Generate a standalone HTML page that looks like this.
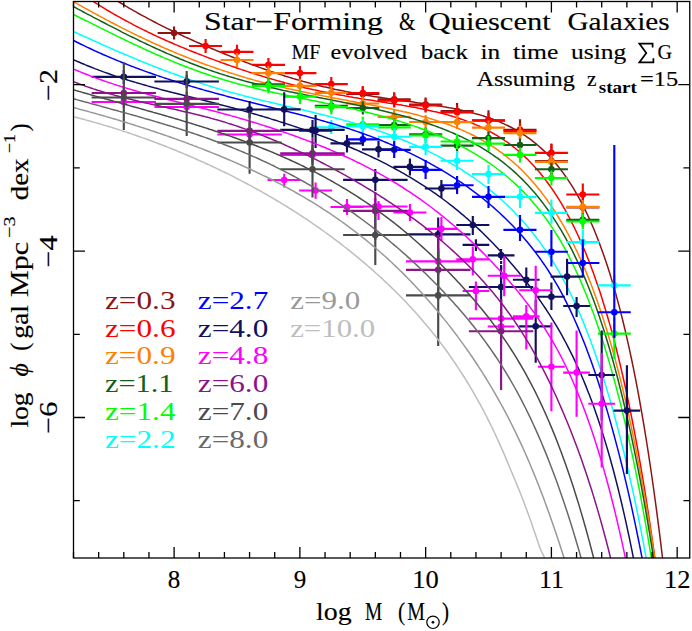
<!DOCTYPE html>
<html><head><meta charset="utf-8"><title>Mass functions</title>
<style>html,body{margin:0;padding:0;background:#fff}svg{font-family:"Liberation Serif",serif}</style></head>
<body>
<svg width="692" height="631" viewBox="0 0 692 631" style="display:block">
<rect width="692" height="631" fill="#fff"/>
<defs><clipPath id="c"><rect x="73.50" y="1.50" width="616.25" height="556.50"/></clipPath></defs>
<g clip-path="url(#c)" stroke-linecap="butt">
<g stroke="#8c1414" fill="#8c1414" stroke-width="2.15">
<path d="M73.5 -22.1 L75.5 -21.1 L77.5 -20.0 L79.5 -18.9 L81.5 -17.9 L83.5 -16.8 L85.5 -15.8 L87.5 -14.7 L89.5 -13.6 L91.5 -12.6 L93.5 -11.5 L95.5 -10.5 L97.5 -9.4 L99.5 -8.3 L101.5 -7.3 L103.5 -6.2 L105.5 -5.2 L107.5 -4.1 L109.5 -3.1 L111.5 -2.0 L113.5 -1.0 L115.5 0.1 L117.5 1.1 L119.5 2.3 L121.5 3.5 L123.5 4.7 L125.5 5.9 L127.5 7.1 L129.5 8.3 L131.5 9.4 L133.5 10.6 L135.5 11.7 L137.5 12.8 L139.5 14.0 L141.5 15.1 L143.5 16.2 L145.5 17.2 L147.5 18.3 L149.5 19.4 L151.5 20.4 L153.5 21.5 L155.5 22.5 L157.5 23.6 L159.5 24.6 L161.5 25.6 L163.5 26.6 L165.5 27.6 L167.5 28.6 L169.5 29.5 L171.5 30.5 L173.5 31.5 L175.5 32.4 L177.5 33.4 L179.5 34.3 L181.5 35.2 L183.5 36.2 L185.5 37.1 L187.5 38.0 L189.5 38.9 L191.5 39.8 L193.5 40.7 L195.5 41.6 L197.5 42.5 L199.5 43.3 L201.5 44.2 L203.5 45.1 L205.5 45.9 L207.5 46.8 L209.5 47.6 L211.5 48.5 L213.5 49.3 L215.5 50.1 L217.5 51.0 L219.5 51.8 L221.5 52.6 L223.5 53.5 L225.5 54.3 L227.5 55.1 L229.5 55.9 L231.5 56.7 L233.5 57.5 L235.5 58.3 L237.5 59.1 L239.5 59.9 L241.5 60.6 L243.5 61.4 L245.5 62.2 L247.5 62.9 L249.5 63.7 L251.5 64.4 L253.5 65.2 L255.5 65.9 L257.5 66.6 L259.5 67.4 L261.5 68.1 L263.5 68.8 L265.5 69.5 L267.5 70.2 L269.5 70.9 L271.5 71.6 L273.5 72.3 L275.5 72.9 L277.5 73.6 L279.5 74.2 L281.5 74.9 L283.5 75.5 L285.5 76.2 L287.5 76.8 L289.5 77.4 L291.5 78.0 L293.5 78.6 L295.5 79.2 L297.5 79.8 L299.5 80.4 L301.5 80.9 L303.5 81.5 L305.5 82.0 L307.5 82.6 L309.5 83.1 L311.5 83.7 L313.5 84.2 L315.5 84.7 L317.5 85.2 L319.5 85.7 L321.5 86.2 L323.5 86.7 L325.5 87.1 L327.5 87.6 L329.5 88.0 L331.5 88.5 L333.5 88.9 L335.5 89.4 L337.5 89.8 L339.5 90.2 L341.5 90.6 L343.5 91.0 L345.5 91.4 L347.5 91.8 L349.5 92.2 L351.5 92.6 L353.5 93.0 L355.5 93.3 L357.5 93.7 L359.5 94.0 L361.5 94.4 L363.5 94.7 L365.5 95.1 L367.5 95.4 L369.5 95.7 L371.5 96.0 L373.5 96.4 L375.5 96.7 L377.5 97.0 L379.5 97.3 L381.5 97.6 L383.5 97.9 L385.5 98.2 L387.5 98.5 L389.5 98.7 L391.5 99.0 L393.5 99.3 L395.5 99.6 L397.5 99.9 L399.5 100.2 L401.5 100.4 L403.5 100.7 L405.5 101.0 L407.5 101.3 L409.5 101.5 L411.5 101.8 L413.5 102.1 L415.5 102.4 L417.5 102.7 L419.5 102.9 L421.5 103.2 L423.5 103.5 L425.5 103.8 L427.5 104.1 L429.5 104.4 L431.5 104.7 L433.5 105.0 L435.5 105.3 L437.5 105.7 L439.5 106.0 L441.5 106.3 L443.5 106.7 L445.5 107.0 L447.5 107.4 L449.5 107.8 L451.5 108.1 L453.5 108.5 L455.5 108.9 L457.5 109.3 L459.5 109.8 L461.5 110.2 L463.5 110.7 L465.5 111.1 L467.5 111.6 L469.5 112.1 L471.5 112.6 L473.5 113.1 L475.5 113.7 L477.5 114.2 L479.5 114.8 L481.5 115.4 L483.5 116.0 L485.5 116.7 L487.5 117.4 L489.5 118.0 L491.5 118.8 L493.5 119.5 L495.5 120.3 L497.5 121.1 L499.5 121.9 L501.5 122.8 L503.5 123.6 L505.5 124.6 L507.5 125.5 L509.5 126.5 L511.5 127.5 L513.5 128.6 L515.5 129.7 L517.5 130.9 L519.5 132.1 L521.5 133.3 L523.5 134.6 L525.5 135.9 L527.5 137.3 L529.5 138.7 L531.5 140.2 L533.5 141.8 L535.5 143.4 L537.5 145.0 L539.5 146.8 L541.5 148.6 L543.5 150.4 L545.5 152.3 L547.5 154.4 L549.5 156.4 L551.5 158.6 L553.5 160.8 L555.5 163.2 L557.5 165.6 L559.5 168.1 L561.5 170.7 L563.5 173.4 L565.5 176.2 L567.5 179.1 L569.5 182.1 L571.5 185.2 L573.5 188.4 L575.5 191.8 L577.5 195.3 L579.5 198.9 L581.5 202.7 L583.5 206.6 L585.5 210.6 L587.5 214.8 L589.5 219.1 L591.5 223.7 L593.5 228.3 L595.5 233.2 L597.5 238.2 L599.5 243.4 L601.5 248.9 L603.5 254.5 L605.5 260.3 L607.5 266.3 L609.5 272.6 L611.5 279.1 L613.5 285.8 L615.5 292.8 L617.5 300.1 L619.5 307.6 L621.5 315.4 L623.5 323.5 L625.5 331.9 L627.5 340.6 L629.5 349.6 L631.5 359.0 L633.5 368.7 L635.5 378.7 L637.5 389.2 L639.5 400.0 L641.5 411.3 L643.5 422.9 L645.5 435.0 L647.5 447.5 L649.5 460.6 L651.5 474.0 L653.5 488.0 L655.5 502.5 L657.5 517.6 L659.5 533.2 L661.5 549.4 L663.5 566.1 L665.5 583.5" fill="none" stroke-width="1.5"/>
<path d="M157.6 33.0H190.6M174.1 26.6V39.4M346.2 94.0H379.3M362.8 87.0V101.0M377.7 99.2H410.7M394.2 92.2V106.2M409.1 104.5H442.2M425.6 97.5V111.5M440.6 111.0H473.6M457.1 103.0V119.0M472.0 120.3H505.0M488.5 110.3V130.3M503.4 129.7H536.5M520.0 119.2V140.2M534.9 161.0H567.9M551.4 144.0V178.0M566.3 207.5H599.4M582.8 195.5V219.5" fill="none"/><circle cx="174.1" cy="33.0" r="3.3" stroke="none"/><circle cx="362.8" cy="94.0" r="3.3" stroke="none"/><circle cx="394.2" cy="99.2" r="3.3" stroke="none"/><circle cx="425.6" cy="104.5" r="3.3" stroke="none"/><circle cx="457.1" cy="111.0" r="3.3" stroke="none"/><circle cx="488.5" cy="120.3" r="3.3" stroke="none"/><circle cx="520.0" cy="129.7" r="3.3" stroke="none"/><circle cx="551.4" cy="161.0" r="3.3" stroke="none"/><circle cx="582.8" cy="207.5" r="3.3" stroke="none"/>
</g>
<g stroke="#ff0000" fill="#ff0000" stroke-width="2.15">
<path d="M73.5 -8.8 L75.5 -7.8 L77.5 -6.7 L79.5 -5.7 L81.5 -4.7 L83.5 -3.6 L85.5 -2.6 L87.5 -1.6 L89.5 -0.6 L91.5 0.5 L93.5 1.6 L95.5 2.9 L97.5 4.2 L99.5 5.4 L101.5 6.7 L103.5 7.9 L105.5 9.1 L107.5 10.3 L109.5 11.5 L111.5 12.7 L113.5 13.8 L115.5 15.0 L117.5 16.1 L119.5 17.2 L121.5 18.3 L123.5 19.4 L125.5 20.5 L127.5 21.6 L129.5 22.7 L131.5 23.7 L133.5 24.8 L135.5 25.8 L137.5 26.8 L139.5 27.9 L141.5 28.9 L143.5 29.9 L145.5 30.8 L147.5 31.8 L149.5 32.8 L151.5 33.7 L153.5 34.7 L155.5 35.6 L157.5 36.6 L159.5 37.5 L161.5 38.4 L163.5 39.3 L165.5 40.2 L167.5 41.1 L169.5 42.0 L171.5 42.8 L173.5 43.7 L175.5 44.6 L177.5 45.4 L179.5 46.3 L181.5 47.1 L183.5 47.9 L185.5 48.7 L187.5 49.6 L189.5 50.4 L191.5 51.2 L193.5 52.0 L195.5 52.8 L197.5 53.6 L199.5 54.3 L201.5 55.1 L203.5 55.9 L205.5 56.6 L207.5 57.4 L209.5 58.2 L211.5 58.9 L213.5 59.6 L215.5 60.4 L217.5 61.1 L219.5 61.8 L221.5 62.6 L223.5 63.3 L225.5 64.0 L227.5 64.7 L229.5 65.4 L231.5 66.1 L233.5 66.8 L235.5 67.5 L237.5 68.2 L239.5 68.9 L241.5 69.6 L243.5 70.2 L245.5 70.9 L247.5 71.6 L249.5 72.2 L251.5 72.9 L253.5 73.5 L255.5 74.1 L257.5 74.8 L259.5 75.4 L261.5 76.0 L263.5 76.6 L265.5 77.2 L267.5 77.8 L269.5 78.4 L271.5 79.0 L273.5 79.6 L275.5 80.1 L277.5 80.7 L279.5 81.2 L281.5 81.8 L283.5 82.3 L285.5 82.9 L287.5 83.4 L289.5 83.9 L291.5 84.4 L293.5 84.9 L295.5 85.4 L297.5 85.9 L299.5 86.4 L301.5 86.9 L303.5 87.4 L305.5 87.9 L307.5 88.3 L309.5 88.8 L311.5 89.2 L313.5 89.7 L315.5 90.1 L317.5 90.5 L319.5 91.0 L321.5 91.4 L323.5 91.8 L325.5 92.2 L327.5 92.6 L329.5 93.0 L331.5 93.4 L333.5 93.8 L335.5 94.1 L337.5 94.5 L339.5 94.9 L341.5 95.3 L343.5 95.6 L345.5 96.0 L347.5 96.3 L349.5 96.7 L351.5 97.0 L353.5 97.4 L355.5 97.7 L357.5 98.0 L359.5 98.4 L361.5 98.7 L363.5 99.0 L365.5 99.4 L367.5 99.7 L369.5 100.0 L371.5 100.3 L373.5 100.6 L375.5 101.0 L377.5 101.3 L379.5 101.6 L381.5 101.9 L383.5 102.2 L385.5 102.5 L387.5 102.9 L389.5 103.2 L391.5 103.5 L393.5 103.8 L395.5 104.1 L397.5 104.5 L399.5 104.8 L401.5 105.1 L403.5 105.5 L405.5 105.8 L407.5 106.2 L409.5 106.5 L411.5 106.9 L413.5 107.2 L415.5 107.6 L417.5 108.0 L419.5 108.4 L421.5 108.8 L423.5 109.2 L425.5 109.6 L427.5 110.0 L429.5 110.5 L431.5 110.9 L433.5 111.4 L435.5 111.8 L437.5 112.3 L439.5 112.8 L441.5 113.3 L443.5 113.8 L445.5 114.3 L447.5 114.9 L449.5 115.5 L451.5 116.0 L453.5 116.6 L455.5 117.3 L457.5 117.9 L459.5 118.5 L461.5 119.2 L463.5 119.9 L465.5 120.6 L467.5 121.4 L469.5 122.1 L471.5 122.9 L473.5 123.7 L475.5 124.6 L477.5 125.4 L479.5 126.3 L481.5 127.3 L483.5 128.2 L485.5 129.2 L487.5 130.2 L489.5 131.3 L491.5 132.4 L493.5 133.5 L495.5 134.6 L497.5 135.8 L499.5 137.1 L501.5 138.4 L503.5 139.7 L505.5 141.0 L507.5 142.4 L509.5 143.9 L511.5 145.4 L513.5 146.9 L515.5 148.5 L517.5 150.2 L519.5 151.9 L521.5 153.7 L523.5 155.5 L525.5 157.4 L527.5 159.3 L529.5 161.3 L531.5 163.4 L533.5 165.5 L535.5 167.7 L537.5 170.0 L539.5 172.3 L541.5 174.8 L543.5 177.3 L545.5 179.9 L547.5 182.5 L549.5 185.3 L551.5 188.1 L553.5 191.0 L555.5 194.1 L557.5 197.2 L559.5 200.4 L561.5 203.7 L563.5 207.1 L565.5 210.6 L567.5 214.3 L569.5 218.0 L571.5 221.9 L573.5 225.9 L575.5 230.0 L577.5 234.2 L579.5 238.6 L581.5 243.1 L583.5 247.7 L585.5 252.5 L587.5 257.5 L589.5 262.6 L591.5 267.9 L593.5 273.3 L595.5 278.9 L597.5 284.7 L599.5 290.6 L601.5 296.8 L603.5 303.2 L605.5 309.7 L607.5 316.5 L609.5 323.4 L611.5 330.6 L613.5 338.1 L615.5 345.7 L617.5 353.7 L619.5 361.8 L621.5 370.3 L623.5 379.0 L625.5 388.0 L627.5 397.2 L629.5 406.8 L631.5 416.7 L633.5 426.9 L635.5 437.4 L637.5 448.2 L639.5 459.4 L641.5 471.0 L643.5 482.9 L645.5 495.2 L647.5 507.9 L649.5 520.9 L651.5 534.4 L653.5 548.4 L655.5 562.7 L657.5 577.6 L659.5 592.8" fill="none" stroke-width="1.5"/>
<path d="M189.0 46.0H222.1M205.6 39.0V53.0M220.5 51.8H253.5M237.0 44.8V58.8M251.9 64.9H285.0M268.4 57.9V71.9M283.4 73.1H316.4M299.9 66.1V80.1M314.8 84.1H347.8M331.3 77.1V91.1M346.2 93.1H379.3M362.8 86.1V100.1M377.7 100.6H410.7M394.2 93.6V107.6M409.1 105.5H442.2M425.6 98.5V112.5M440.6 112.3H473.6M457.1 105.3V119.3M472.0 120.6H505.0M488.5 113.1V128.1M503.4 131.0H536.5M520.0 123.0V139.0M534.9 152.9H567.9M551.4 143.6V162.2M566.3 194.5H599.4M582.8 183.5V205.5" fill="none"/><circle cx="205.6" cy="46.0" r="3.3" stroke="none"/><circle cx="237.0" cy="51.8" r="3.3" stroke="none"/><circle cx="268.4" cy="64.9" r="3.3" stroke="none"/><circle cx="299.9" cy="73.1" r="3.3" stroke="none"/><circle cx="331.3" cy="84.1" r="3.3" stroke="none"/><circle cx="362.8" cy="93.1" r="3.3" stroke="none"/><circle cx="394.2" cy="100.6" r="3.3" stroke="none"/><circle cx="425.6" cy="105.5" r="3.3" stroke="none"/><circle cx="457.1" cy="112.3" r="3.3" stroke="none"/><circle cx="488.5" cy="120.6" r="3.3" stroke="none"/><circle cx="520.0" cy="131.0" r="3.3" stroke="none"/><circle cx="551.4" cy="152.9" r="3.3" stroke="none"/><circle cx="582.8" cy="194.5" r="3.3" stroke="none"/>
</g>
<g stroke="#ff7f00" fill="#ff7f00" stroke-width="2.15">
<path d="M73.5 1.7 L75.5 2.8 L77.5 3.9 L79.5 5.1 L81.5 6.2 L83.5 7.3 L85.5 8.4 L87.5 9.5 L89.5 10.6 L91.5 11.7 L93.5 12.8 L95.5 13.9 L97.5 15.0 L99.5 16.1 L101.5 17.2 L103.5 18.2 L105.5 19.3 L107.5 20.4 L109.5 21.4 L111.5 22.5 L113.5 23.5 L115.5 24.5 L117.5 25.6 L119.5 26.6 L121.5 27.6 L123.5 28.6 L125.5 29.6 L127.5 30.6 L129.5 31.6 L131.5 32.6 L133.5 33.6 L135.5 34.6 L137.5 35.6 L139.5 36.5 L141.5 37.5 L143.5 38.4 L145.5 39.4 L147.5 40.3 L149.5 41.2 L151.5 42.2 L153.5 43.1 L155.5 44.0 L157.5 44.9 L159.5 45.8 L161.5 46.7 L163.5 47.6 L165.5 48.5 L167.5 49.3 L169.5 50.2 L171.5 51.0 L173.5 51.9 L175.5 52.7 L177.5 53.6 L179.5 54.4 L181.5 55.2 L183.5 56.0 L185.5 56.8 L187.5 57.6 L189.5 58.4 L191.5 59.2 L193.5 60.0 L195.5 60.8 L197.5 61.5 L199.5 62.3 L201.5 63.0 L203.5 63.8 L205.5 64.5 L207.5 65.2 L209.5 65.9 L211.5 66.6 L213.5 67.3 L215.5 68.0 L217.5 68.7 L219.5 69.4 L221.5 70.1 L223.5 70.7 L225.5 71.4 L227.5 72.0 L229.5 72.7 L231.5 73.3 L233.5 73.9 L235.5 74.6 L237.5 75.2 L239.5 75.8 L241.5 76.4 L243.5 77.0 L245.5 77.6 L247.5 78.2 L249.5 78.7 L251.5 79.3 L253.5 79.9 L255.5 80.4 L257.5 81.0 L259.5 81.5 L261.5 82.0 L263.5 82.6 L265.5 83.1 L267.5 83.6 L269.5 84.1 L271.5 84.6 L273.5 85.1 L275.5 85.6 L277.5 86.1 L279.5 86.6 L281.5 87.0 L283.5 87.5 L285.5 88.0 L287.5 88.4 L289.5 88.9 L291.5 89.3 L293.5 89.8 L295.5 90.2 L297.5 90.6 L299.5 91.1 L301.5 91.5 L303.5 91.9 L305.5 92.3 L307.5 92.8 L309.5 93.2 L311.5 93.6 L313.5 94.0 L315.5 94.4 L317.5 94.8 L319.5 95.2 L321.5 95.6 L323.5 96.0 L325.5 96.3 L327.5 96.7 L329.5 97.1 L331.5 97.5 L333.5 97.9 L335.5 98.3 L337.5 98.6 L339.5 99.0 L341.5 99.4 L343.5 99.8 L345.5 100.1 L347.5 100.5 L349.5 100.9 L351.5 101.2 L353.5 101.6 L355.5 102.0 L357.5 102.4 L359.5 102.7 L361.5 103.1 L363.5 103.5 L365.5 103.9 L367.5 104.3 L369.5 104.6 L371.5 105.0 L373.5 105.4 L375.5 105.8 L377.5 106.2 L379.5 106.6 L381.5 107.0 L383.5 107.4 L385.5 107.8 L387.5 108.2 L389.5 108.6 L391.5 109.0 L393.5 109.5 L395.5 109.9 L397.5 110.3 L399.5 110.8 L401.5 111.2 L403.5 111.7 L405.5 112.1 L407.5 112.6 L409.5 113.1 L411.5 113.6 L413.5 114.1 L415.5 114.6 L417.5 115.1 L419.5 115.6 L421.5 116.2 L423.5 116.7 L425.5 117.3 L427.5 117.8 L429.5 118.4 L431.5 119.0 L433.5 119.6 L435.5 120.2 L437.5 120.9 L439.5 121.5 L441.5 122.2 L443.5 122.9 L445.5 123.6 L447.5 124.3 L449.5 125.0 L451.5 125.8 L453.5 126.6 L455.5 127.4 L457.5 128.2 L459.5 129.0 L461.5 129.9 L463.5 130.7 L465.5 131.6 L467.5 132.6 L469.5 133.5 L471.5 134.5 L473.5 135.5 L475.5 136.5 L477.5 137.6 L479.5 138.6 L481.5 139.8 L483.5 140.9 L485.5 142.1 L487.5 143.3 L489.5 144.5 L491.5 145.8 L493.5 147.1 L495.5 148.4 L497.5 149.8 L499.5 151.3 L501.5 152.7 L503.5 154.2 L505.5 155.8 L507.5 157.4 L509.5 159.0 L511.5 160.7 L513.5 162.4 L515.5 164.2 L517.5 166.0 L519.5 167.9 L521.5 169.8 L523.5 171.8 L525.5 173.9 L527.5 176.0 L529.5 178.2 L531.5 180.4 L533.5 182.7 L535.5 185.0 L537.5 187.5 L539.5 189.9 L541.5 192.5 L543.5 195.1 L545.5 197.8 L547.5 200.6 L549.5 203.5 L551.5 206.4 L553.5 209.4 L555.5 212.5 L557.5 215.7 L559.5 219.0 L561.5 222.3 L563.5 225.7 L565.5 229.3 L567.5 232.9 L569.5 236.6 L571.5 240.5 L573.5 244.4 L575.5 248.5 L577.5 252.6 L579.5 256.9 L581.5 261.3 L583.5 265.9 L585.5 270.6 L587.5 275.4 L589.5 280.4 L591.5 285.5 L593.5 290.8 L595.5 296.2 L597.5 301.8 L599.5 307.6 L601.5 313.5 L603.5 319.6 L605.5 326.0 L607.5 332.5 L609.5 339.2 L611.5 346.1 L613.5 353.2 L615.5 360.6 L617.5 368.2 L619.5 376.0 L621.5 384.0 L623.5 392.3 L625.5 400.8 L627.5 409.5 L629.5 418.5 L631.5 427.8 L633.5 437.4 L635.5 447.2 L637.5 457.3 L639.5 467.8 L641.5 478.5 L643.5 489.6 L645.5 500.9 L647.5 512.7 L649.5 524.8 L651.5 537.2 L653.5 550.0 L655.5 563.2 L657.5 576.8 L659.5 590.8" fill="none" stroke-width="1.5"/>
<path d="M220.5 60.0H253.5M237.0 53.0V67.0M251.9 73.1H285.0M268.4 66.1V80.1M283.4 85.8H316.4M299.9 78.8V92.8M314.8 92.8H347.8M331.3 85.8V99.8M346.2 103.5H379.3M362.8 96.5V110.5M377.7 116.8H410.7M394.2 109.8V123.8M409.1 122.0H442.2M425.6 115.0V129.0M440.6 122.1H473.6M457.1 115.1V129.1M472.0 127.6H505.0M488.5 120.6V134.6M503.4 133.1H536.5M520.0 126.1V140.1M534.9 161.9H567.9M551.4 154.9V168.9M566.3 206.9H599.4M582.8 199.9V213.9" fill="none"/><circle cx="237.0" cy="60.0" r="3.3" stroke="none"/><circle cx="268.4" cy="73.1" r="3.3" stroke="none"/><circle cx="299.9" cy="85.8" r="3.3" stroke="none"/><circle cx="331.3" cy="92.8" r="3.3" stroke="none"/><circle cx="362.8" cy="103.5" r="3.3" stroke="none"/><circle cx="394.2" cy="116.8" r="3.3" stroke="none"/><circle cx="425.6" cy="122.0" r="3.3" stroke="none"/><circle cx="457.1" cy="122.1" r="3.3" stroke="none"/><circle cx="488.5" cy="127.6" r="3.3" stroke="none"/><circle cx="520.0" cy="133.1" r="3.3" stroke="none"/><circle cx="551.4" cy="161.9" r="3.3" stroke="none"/><circle cx="582.8" cy="206.9" r="3.3" stroke="none"/>
</g>
<g stroke="#14601a" fill="#14601a" stroke-width="2.15">
<path d="M73.5 6.7 L75.5 7.7 L77.5 8.8 L79.5 9.9 L81.5 10.9 L83.5 12.0 L85.5 13.1 L87.5 14.1 L89.5 15.2 L91.5 16.2 L93.5 17.3 L95.5 18.3 L97.5 19.4 L99.5 20.4 L101.5 21.5 L103.5 22.5 L105.5 23.5 L107.5 24.6 L109.5 25.6 L111.5 26.7 L113.5 27.7 L115.5 28.7 L117.5 29.7 L119.5 30.7 L121.5 31.8 L123.5 32.8 L125.5 33.8 L127.5 34.8 L129.5 35.8 L131.5 36.8 L133.5 37.7 L135.5 38.7 L137.5 39.7 L139.5 40.7 L141.5 41.6 L143.5 42.6 L145.5 43.5 L147.5 44.5 L149.5 45.4 L151.5 46.4 L153.5 47.3 L155.5 48.2 L157.5 49.1 L159.5 50.0 L161.5 50.9 L163.5 51.8 L165.5 52.7 L167.5 53.6 L169.5 54.4 L171.5 55.3 L173.5 56.1 L175.5 57.0 L177.5 57.8 L179.5 58.7 L181.5 59.5 L183.5 60.3 L185.5 61.1 L187.5 61.9 L189.5 62.7 L191.5 63.5 L193.5 64.2 L195.5 65.0 L197.5 65.7 L199.5 66.5 L201.5 67.2 L203.5 68.0 L205.5 68.7 L207.5 69.4 L209.5 70.1 L211.5 70.8 L213.5 71.5 L215.5 72.1 L217.5 72.8 L219.5 73.5 L221.5 74.1 L223.5 74.7 L225.5 75.4 L227.5 76.0 L229.5 76.6 L231.5 77.2 L233.5 77.8 L235.5 78.4 L237.5 79.0 L239.5 79.5 L241.5 80.1 L243.5 80.6 L245.5 81.2 L247.5 81.7 L249.5 82.3 L251.5 82.8 L253.5 83.3 L255.5 83.8 L257.5 84.3 L259.5 84.8 L261.5 85.3 L263.5 85.8 L265.5 86.3 L267.5 86.8 L269.5 87.2 L271.5 87.7 L273.5 88.1 L275.5 88.6 L277.5 89.1 L279.5 89.5 L281.5 89.9 L283.5 90.4 L285.5 90.8 L287.5 91.2 L289.5 91.7 L291.5 92.1 L293.5 92.5 L295.5 92.9 L297.5 93.3 L299.5 93.7 L301.5 94.1 L303.5 94.5 L305.5 94.9 L307.5 95.3 L309.5 95.7 L311.5 96.1 L313.5 96.5 L315.5 96.9 L317.5 97.3 L319.5 97.7 L321.5 98.1 L323.5 98.5 L325.5 98.8 L327.5 99.2 L329.5 99.6 L331.5 100.0 L333.5 100.4 L335.5 100.8 L337.5 101.2 L339.5 101.6 L341.5 102.0 L343.5 102.4 L345.5 102.8 L347.5 103.2 L349.5 103.6 L351.5 104.0 L353.5 104.4 L355.5 104.8 L357.5 105.2 L359.5 105.6 L361.5 106.0 L363.5 106.4 L365.5 106.9 L367.5 107.3 L369.5 107.7 L371.5 108.2 L373.5 108.6 L375.5 109.1 L377.5 109.5 L379.5 110.0 L381.5 110.4 L383.5 110.9 L385.5 111.4 L387.5 111.9 L389.5 112.4 L391.5 112.9 L393.5 113.4 L395.5 113.9 L397.5 114.4 L399.5 114.9 L401.5 115.5 L403.5 116.0 L405.5 116.6 L407.5 117.1 L409.5 117.7 L411.5 118.3 L413.5 118.9 L415.5 119.5 L417.5 120.1 L419.5 120.7 L421.5 121.3 L423.5 122.0 L425.5 122.6 L427.5 123.3 L429.5 124.0 L431.5 124.7 L433.5 125.4 L435.5 126.1 L437.5 126.8 L439.5 127.6 L441.5 128.3 L443.5 129.1 L445.5 129.9 L447.5 130.7 L449.5 131.6 L451.5 132.4 L453.5 133.3 L455.5 134.2 L457.5 135.1 L459.5 136.0 L461.5 136.9 L463.5 137.9 L465.5 138.9 L467.5 139.9 L469.5 140.9 L471.5 142.0 L473.5 143.0 L475.5 144.2 L477.5 145.3 L479.5 146.4 L481.5 147.6 L483.5 148.8 L485.5 150.1 L487.5 151.4 L489.5 152.7 L491.5 154.0 L493.5 155.4 L495.5 156.8 L497.5 158.2 L499.5 159.7 L501.5 161.2 L503.5 162.7 L505.5 164.3 L507.5 166.0 L509.5 167.6 L511.5 169.3 L513.5 171.1 L515.5 172.9 L517.5 174.8 L519.5 176.7 L521.5 178.6 L523.5 180.6 L525.5 182.7 L527.5 184.8 L529.5 187.0 L531.5 189.2 L533.5 191.5 L535.5 193.8 L537.5 196.2 L539.5 198.7 L541.5 201.3 L543.5 203.9 L545.5 206.6 L547.5 209.3 L549.5 212.2 L551.5 215.1 L553.5 218.1 L555.5 221.2 L557.5 224.3 L559.5 227.6 L561.5 230.9 L563.5 234.4 L565.5 237.9 L567.5 241.6 L569.5 245.3 L571.5 249.2 L573.5 253.2 L575.5 257.3 L577.5 261.5 L579.5 265.8 L581.5 270.3 L583.5 274.9 L585.5 279.6 L587.5 284.5 L589.5 289.5 L591.5 294.7 L593.5 300.0 L595.5 305.5 L597.5 311.2 L599.5 317.0 L601.5 323.0 L603.5 329.1 L605.5 335.5 L607.5 342.0 L609.5 348.7 L611.5 355.7 L613.5 362.8 L615.5 370.1 L617.5 377.7 L619.5 385.5 L621.5 393.5 L623.5 401.7 L625.5 410.1 L627.5 418.8 L629.5 427.7 L631.5 436.9 L633.5 446.4 L635.5 456.1 L637.5 466.2 L639.5 476.5 L641.5 487.2 L643.5 498.1 L645.5 509.4 L647.5 521.0 L649.5 532.9 L651.5 545.2 L653.5 557.9 L655.5 571.0 L657.5 584.4" fill="none" stroke-width="1.5"/>
<path d="M251.9 84.4H285.0M268.4 77.9V90.9M314.8 105.7H347.8M331.3 99.2V112.2M346.2 108.0H379.3M362.8 101.5V114.5M377.7 125.0H410.7M394.2 118.5V131.5M409.1 134.2H442.2M425.6 127.7V140.7M440.6 145.6H473.6M457.1 139.1V152.1M472.0 138.1H505.0M488.5 131.6V144.6M503.4 145.0H536.5M520.0 138.5V151.5M534.9 169.2H567.9M551.4 162.7V175.7M566.3 219.9H599.4M582.8 213.4V226.4" fill="none"/><circle cx="268.4" cy="84.4" r="3.3" stroke="none"/><circle cx="331.3" cy="105.7" r="3.3" stroke="none"/><circle cx="362.8" cy="108.0" r="3.3" stroke="none"/><circle cx="394.2" cy="125.0" r="3.3" stroke="none"/><circle cx="425.6" cy="134.2" r="3.3" stroke="none"/><circle cx="457.1" cy="145.6" r="3.3" stroke="none"/><circle cx="488.5" cy="138.1" r="3.3" stroke="none"/><circle cx="520.0" cy="145.0" r="3.3" stroke="none"/><circle cx="551.4" cy="169.2" r="3.3" stroke="none"/><circle cx="582.8" cy="219.9" r="3.3" stroke="none"/>
</g>
<g stroke="#00ff00" fill="#00ff00" stroke-width="2.15">
<path d="M73.5 14.5 L75.5 15.5 L77.5 16.5 L79.5 17.5 L81.5 18.5 L83.5 19.5 L85.5 20.5 L87.5 21.4 L89.5 22.4 L91.5 23.4 L93.5 24.4 L95.5 25.4 L97.5 26.4 L99.5 27.4 L101.5 28.4 L103.5 29.4 L105.5 30.4 L107.5 31.4 L109.5 32.4 L111.5 33.4 L113.5 34.3 L115.5 35.3 L117.5 36.3 L119.5 37.3 L121.5 38.2 L123.5 39.2 L125.5 40.2 L127.5 41.1 L129.5 42.1 L131.5 43.0 L133.5 44.0 L135.5 44.9 L137.5 45.9 L139.5 46.8 L141.5 47.7 L143.5 48.7 L145.5 49.6 L147.5 50.5 L149.5 51.4 L151.5 52.3 L153.5 53.2 L155.5 54.1 L157.5 55.0 L159.5 55.8 L161.5 56.7 L163.5 57.6 L165.5 58.4 L167.5 59.3 L169.5 60.1 L171.5 60.9 L173.5 61.8 L175.5 62.6 L177.5 63.4 L179.5 64.2 L181.5 65.0 L183.5 65.8 L185.5 66.5 L187.5 67.3 L189.5 68.1 L191.5 68.8 L193.5 69.6 L195.5 70.3 L197.5 71.0 L199.5 71.7 L201.5 72.5 L203.5 73.2 L205.5 73.8 L207.5 74.5 L209.5 75.2 L211.5 75.9 L213.5 76.5 L215.5 77.2 L217.5 77.8 L219.5 78.4 L221.5 79.0 L223.5 79.7 L225.5 80.3 L227.5 80.8 L229.5 81.4 L231.5 82.0 L233.5 82.6 L235.5 83.1 L237.5 83.7 L239.5 84.2 L241.5 84.8 L243.5 85.3 L245.5 85.8 L247.5 86.3 L249.5 86.8 L251.5 87.3 L253.5 87.8 L255.5 88.3 L257.5 88.8 L259.5 89.3 L261.5 89.7 L263.5 90.2 L265.5 90.7 L267.5 91.1 L269.5 91.6 L271.5 92.0 L273.5 92.4 L275.5 92.9 L277.5 93.3 L279.5 93.8 L281.5 94.2 L283.5 94.6 L285.5 95.0 L287.5 95.4 L289.5 95.9 L291.5 96.3 L293.5 96.7 L295.5 97.1 L297.5 97.5 L299.5 97.9 L301.5 98.3 L303.5 98.7 L305.5 99.1 L307.5 99.5 L309.5 99.9 L311.5 100.3 L313.5 100.7 L315.5 101.1 L317.5 101.5 L319.5 101.9 L321.5 102.3 L323.5 102.7 L325.5 103.2 L327.5 103.6 L329.5 104.0 L331.5 104.4 L333.5 104.8 L335.5 105.2 L337.5 105.6 L339.5 106.1 L341.5 106.5 L343.5 106.9 L345.5 107.3 L347.5 107.8 L349.5 108.2 L351.5 108.7 L353.5 109.1 L355.5 109.6 L357.5 110.0 L359.5 110.5 L361.5 111.0 L363.5 111.4 L365.5 111.9 L367.5 112.4 L369.5 112.9 L371.5 113.4 L373.5 113.9 L375.5 114.5 L377.5 115.0 L379.5 115.5 L381.5 116.1 L383.5 116.6 L385.5 117.2 L387.5 117.7 L389.5 118.3 L391.5 118.9 L393.5 119.5 L395.5 120.1 L397.5 120.7 L399.5 121.3 L401.5 121.9 L403.5 122.5 L405.5 123.2 L407.5 123.8 L409.5 124.5 L411.5 125.2 L413.5 125.9 L415.5 126.6 L417.5 127.3 L419.5 128.0 L421.5 128.7 L423.5 129.5 L425.5 130.2 L427.5 131.0 L429.5 131.8 L431.5 132.6 L433.5 133.4 L435.5 134.2 L437.5 135.0 L439.5 135.9 L441.5 136.7 L443.5 137.6 L445.5 138.5 L447.5 139.4 L449.5 140.3 L451.5 141.3 L453.5 142.2 L455.5 143.2 L457.5 144.2 L459.5 145.2 L461.5 146.3 L463.5 147.3 L465.5 148.4 L467.5 149.5 L469.5 150.6 L471.5 151.8 L473.5 152.9 L475.5 154.1 L477.5 155.3 L479.5 156.6 L481.5 157.8 L483.5 159.1 L485.5 160.4 L487.5 161.8 L489.5 163.2 L491.5 164.6 L493.5 166.0 L495.5 167.5 L497.5 169.0 L499.5 170.5 L501.5 172.1 L503.5 173.7 L505.5 175.3 L507.5 177.0 L509.5 178.7 L511.5 180.5 L513.5 182.3 L515.5 184.1 L517.5 186.0 L519.5 187.9 L521.5 189.9 L523.5 191.9 L525.5 194.0 L527.5 196.1 L529.5 198.3 L531.5 200.6 L533.5 202.9 L535.5 205.2 L537.5 207.7 L539.5 210.2 L541.5 212.7 L543.5 215.4 L545.5 218.1 L547.5 220.8 L549.5 223.7 L551.5 226.6 L553.5 229.7 L555.5 232.8 L557.5 236.0 L559.5 239.2 L561.5 242.7 L563.5 246.2 L565.5 249.8 L567.5 253.6 L569.5 257.5 L571.5 261.4 L573.5 265.5 L575.5 269.7 L577.5 274.1 L579.5 278.5 L581.5 283.1 L583.5 287.9 L585.5 292.7 L587.5 297.7 L589.5 302.9 L591.5 308.2 L593.5 313.6 L595.5 319.3 L597.5 325.0 L599.5 330.9 L601.5 337.0 L603.5 343.3 L605.5 349.7 L607.5 356.3 L609.5 363.1 L611.5 370.1 L613.5 377.2 L615.5 384.6 L617.5 392.2 L619.5 399.9 L621.5 407.9 L623.5 416.1 L625.5 424.5 L627.5 433.2 L629.5 442.1 L631.5 451.3 L633.5 460.7 L635.5 470.4 L637.5 480.4 L639.5 490.7 L641.5 501.3 L643.5 512.1 L645.5 523.3 L647.5 534.9 L649.5 546.7 L651.5 558.9 L653.5 571.5 L655.5 584.4 L657.5 597.7" fill="none" stroke-width="1.5"/>
<path d="M251.9 85.8H285.0M268.4 78.3V93.3M283.4 96.6H316.4M299.9 89.1V104.1M314.8 107.1H347.8M331.3 99.6V114.6M346.2 124.2H379.3M362.8 116.7V131.7M377.7 127.4H410.7M394.2 119.9V134.9M409.1 135.5H442.2M425.6 128.0V143.0M440.6 141.5H473.6M457.1 134.0V149.0M472.0 143.6H505.0M488.5 136.1V151.1M503.4 154.9H536.5M520.0 147.4V162.4M534.9 178.1H567.9M551.4 170.6V185.6M566.3 221.5H599.4M582.8 214.0V229.0M597.8 333.6H630.8M614.3 318.0V358.9" fill="none"/><circle cx="268.4" cy="85.8" r="3.3" stroke="none"/><circle cx="299.9" cy="96.6" r="3.3" stroke="none"/><circle cx="331.3" cy="107.1" r="3.3" stroke="none"/><circle cx="362.8" cy="124.2" r="3.3" stroke="none"/><circle cx="394.2" cy="127.4" r="3.3" stroke="none"/><circle cx="425.6" cy="135.5" r="3.3" stroke="none"/><circle cx="457.1" cy="141.5" r="3.3" stroke="none"/><circle cx="488.5" cy="143.6" r="3.3" stroke="none"/><circle cx="520.0" cy="154.9" r="3.3" stroke="none"/><circle cx="551.4" cy="178.1" r="3.3" stroke="none"/><circle cx="582.8" cy="221.5" r="3.3" stroke="none"/><circle cx="614.3" cy="333.6" r="3.3" stroke="none"/>
</g>
<g stroke="#00ffff" fill="#00ffff" stroke-width="2.15">
<path d="M73.5 31.6 L75.5 32.5 L77.5 33.4 L79.5 34.3 L81.5 35.2 L83.5 36.1 L85.5 37.0 L87.5 37.9 L89.5 38.8 L91.5 39.7 L93.5 40.6 L95.5 41.5 L97.5 42.4 L99.5 43.3 L101.5 44.2 L103.5 45.1 L105.5 46.0 L107.5 46.9 L109.5 47.7 L111.5 48.6 L113.5 49.5 L115.5 50.4 L117.5 51.2 L119.5 52.1 L121.5 53.0 L123.5 53.8 L125.5 54.7 L127.5 55.5 L129.5 56.4 L131.5 57.2 L133.5 58.0 L135.5 58.9 L137.5 59.7 L139.5 60.5 L141.5 61.4 L143.5 62.2 L145.5 63.0 L147.5 63.8 L149.5 64.6 L151.5 65.4 L153.5 66.2 L155.5 67.0 L157.5 67.7 L159.5 68.5 L161.5 69.3 L163.5 70.1 L165.5 70.8 L167.5 71.6 L169.5 72.3 L171.5 73.1 L173.5 73.8 L175.5 74.5 L177.5 75.2 L179.5 76.0 L181.5 76.7 L183.5 77.4 L185.5 78.1 L187.5 78.8 L189.5 79.5 L191.5 80.2 L193.5 80.8 L195.5 81.5 L197.5 82.2 L199.5 82.8 L201.5 83.5 L203.5 84.1 L205.5 84.8 L207.5 85.4 L209.5 86.0 L211.5 86.6 L213.5 87.3 L215.5 87.9 L217.5 88.5 L219.5 89.1 L221.5 89.6 L223.5 90.2 L225.5 90.8 L227.5 91.4 L229.5 91.9 L231.5 92.5 L233.5 93.0 L235.5 93.6 L237.5 94.1 L239.5 94.6 L241.5 95.1 L243.5 95.7 L245.5 96.2 L247.5 96.7 L249.5 97.2 L251.5 97.7 L253.5 98.2 L255.5 98.7 L257.5 99.2 L259.5 99.7 L261.5 100.2 L263.5 100.7 L265.5 101.2 L267.5 101.6 L269.5 102.1 L271.5 102.6 L273.5 103.1 L275.5 103.5 L277.5 104.0 L279.5 104.5 L281.5 104.9 L283.5 105.4 L285.5 105.9 L287.5 106.4 L289.5 106.8 L291.5 107.3 L293.5 107.8 L295.5 108.2 L297.5 108.7 L299.5 109.2 L301.5 109.6 L303.5 110.1 L305.5 110.6 L307.5 111.0 L309.5 111.5 L311.5 112.0 L313.5 112.5 L315.5 113.0 L317.5 113.5 L319.5 113.9 L321.5 114.4 L323.5 114.9 L325.5 115.4 L327.5 115.9 L329.5 116.4 L331.5 117.0 L333.5 117.5 L335.5 118.0 L337.5 118.5 L339.5 119.1 L341.5 119.6 L343.5 120.1 L345.5 120.7 L347.5 121.2 L349.5 121.8 L351.5 122.4 L353.5 122.9 L355.5 123.5 L357.5 124.1 L359.5 124.7 L361.5 125.3 L363.5 125.9 L365.5 126.5 L367.5 127.2 L369.5 127.8 L371.5 128.5 L373.5 129.1 L375.5 129.8 L377.5 130.5 L379.5 131.1 L381.5 131.8 L383.5 132.5 L385.5 133.3 L387.5 134.0 L389.5 134.7 L391.5 135.5 L393.5 136.2 L395.5 137.0 L397.5 137.8 L399.5 138.6 L401.5 139.4 L403.5 140.2 L405.5 141.0 L407.5 141.8 L409.5 142.7 L411.5 143.6 L413.5 144.4 L415.5 145.3 L417.5 146.2 L419.5 147.1 L421.5 148.0 L423.5 149.0 L425.5 149.9 L427.5 150.9 L429.5 151.9 L431.5 152.9 L433.5 153.9 L435.5 154.9 L437.5 155.9 L439.5 157.0 L441.5 158.0 L443.5 159.1 L445.5 160.2 L447.5 161.3 L449.5 162.5 L451.5 163.6 L453.5 164.8 L455.5 166.0 L457.5 167.2 L459.5 168.4 L461.5 169.7 L463.5 171.0 L465.5 172.3 L467.5 173.6 L469.5 174.9 L471.5 176.3 L473.5 177.6 L475.5 179.0 L477.5 180.5 L479.5 181.9 L481.5 183.4 L483.5 184.9 L485.5 186.5 L487.5 188.0 L489.5 189.6 L491.5 191.2 L493.5 192.9 L495.5 194.6 L497.5 196.3 L499.5 198.1 L501.5 199.8 L503.5 201.7 L505.5 203.5 L507.5 205.4 L509.5 207.3 L511.5 209.3 L513.5 211.3 L515.5 213.4 L517.5 215.5 L519.5 217.6 L521.5 219.8 L523.5 222.0 L525.5 224.3 L527.5 226.6 L529.5 229.0 L531.5 231.5 L533.5 234.0 L535.5 236.5 L537.5 239.1 L539.5 241.8 L541.5 244.6 L543.5 247.4 L545.5 250.2 L547.5 253.2 L549.5 256.2 L551.5 259.3 L553.5 262.5 L555.5 265.8 L557.5 269.1 L559.5 272.6 L561.5 276.2 L563.5 279.8 L565.5 283.6 L567.5 287.5 L569.5 291.5 L571.5 295.6 L573.5 299.8 L575.5 304.1 L577.5 308.6 L579.5 313.1 L581.5 317.8 L583.5 322.6 L585.5 327.6 L587.5 332.7 L589.5 337.9 L591.5 343.3 L593.5 348.8 L595.5 354.4 L597.5 360.3 L599.5 366.2 L601.5 372.3 L603.5 378.6 L605.5 385.0 L607.5 391.6 L609.5 398.4 L611.5 405.3 L613.5 412.4 L615.5 419.7 L617.5 427.2 L619.5 434.9 L621.5 442.7 L623.5 450.7 L625.5 458.9 L627.5 467.4 L629.5 476.1 L631.5 485.0 L633.5 494.1 L635.5 503.5 L637.5 513.2 L639.5 523.1 L641.5 533.2 L643.5 543.7 L645.5 554.4 L647.5 565.4 L649.5 576.7 L651.5 588.3" fill="none" stroke-width="1.5"/>
<path d="M314.8 127.2H347.8M331.3 120.0V134.0M346.2 126.3H379.3M362.8 119.0V134.0M377.7 136.7H410.7M394.2 128.0V145.0M409.1 146.8H442.2M425.6 138.0V155.0M440.6 160.7H473.6M457.1 151.0V170.0M472.0 174.1H505.0M488.5 165.0V184.0M503.4 196.8H536.5M520.0 186.0V208.0M534.9 212.8H567.9M551.4 199.4V223.8M566.3 242.1H599.4M582.8 230.0V250.0M597.8 285.4H630.8M614.3 275.0V296.0" fill="none"/><circle cx="331.3" cy="127.2" r="3.3" stroke="none"/><circle cx="362.8" cy="126.3" r="3.3" stroke="none"/><circle cx="394.2" cy="136.7" r="3.3" stroke="none"/><circle cx="425.6" cy="146.8" r="3.3" stroke="none"/><circle cx="457.1" cy="160.7" r="3.3" stroke="none"/><circle cx="488.5" cy="174.1" r="3.3" stroke="none"/><circle cx="520.0" cy="196.8" r="3.3" stroke="none"/><circle cx="551.4" cy="212.8" r="3.3" stroke="none"/><circle cx="582.8" cy="242.1" r="3.3" stroke="none"/><circle cx="614.3" cy="285.4" r="3.3" stroke="none"/>
</g>
<g stroke="#0000ff" fill="#0000ff" stroke-width="2.15">
<path d="M73.5 40.5 L75.5 41.5 L77.5 42.5 L79.5 43.5 L81.5 44.5 L83.5 45.4 L85.5 46.4 L87.5 47.4 L89.5 48.3 L91.5 49.2 L93.5 50.2 L95.5 51.1 L97.5 52.0 L99.5 52.9 L101.5 53.8 L103.5 54.7 L105.5 55.5 L107.5 56.4 L109.5 57.3 L111.5 58.1 L113.5 58.9 L115.5 59.8 L117.5 60.6 L119.5 61.4 L121.5 62.2 L123.5 63.0 L125.5 63.8 L127.5 64.6 L129.5 65.4 L131.5 66.2 L133.5 66.9 L135.5 67.7 L137.5 68.4 L139.5 69.2 L141.5 69.9 L143.5 70.6 L145.5 71.4 L147.5 72.1 L149.5 72.8 L151.5 73.5 L153.5 74.2 L155.5 74.9 L157.5 75.6 L159.5 76.2 L161.5 76.9 L163.5 77.6 L165.5 78.2 L167.5 78.9 L169.5 79.5 L171.5 80.2 L173.5 80.8 L175.5 81.5 L177.5 82.1 L179.5 82.7 L181.5 83.3 L183.5 84.0 L185.5 84.6 L187.5 85.2 L189.5 85.8 L191.5 86.4 L193.5 87.0 L195.5 87.5 L197.5 88.1 L199.5 88.7 L201.5 89.3 L203.5 89.9 L205.5 90.4 L207.5 91.0 L209.5 91.5 L211.5 92.1 L213.5 92.6 L215.5 93.2 L217.5 93.7 L219.5 94.3 L221.5 94.8 L223.5 95.3 L225.5 95.9 L227.5 96.4 L229.5 96.9 L231.5 97.4 L233.5 97.9 L235.5 98.5 L237.5 99.0 L239.5 99.5 L241.5 100.0 L243.5 100.5 L245.5 101.0 L247.5 101.5 L249.5 102.0 L251.5 102.5 L253.5 103.0 L255.5 103.5 L257.5 104.0 L259.5 104.5 L261.5 105.0 L263.5 105.5 L265.5 106.0 L267.5 106.5 L269.5 106.9 L271.5 107.4 L273.5 107.9 L275.5 108.4 L277.5 108.9 L279.5 109.4 L281.5 109.9 L283.5 110.4 L285.5 110.9 L287.5 111.4 L289.5 112.0 L291.5 112.5 L293.5 113.0 L295.5 113.5 L297.5 114.0 L299.5 114.5 L301.5 115.0 L303.5 115.6 L305.5 116.1 L307.5 116.6 L309.5 117.2 L311.5 117.7 L313.5 118.2 L315.5 118.8 L317.5 119.3 L319.5 119.9 L321.5 120.5 L323.5 121.0 L325.5 121.6 L327.5 122.2 L329.5 122.8 L331.5 123.3 L333.5 123.9 L335.5 124.5 L337.5 125.1 L339.5 125.8 L341.5 126.4 L343.5 127.0 L345.5 127.6 L347.5 128.3 L349.5 128.9 L351.5 129.6 L353.5 130.3 L355.5 130.9 L357.5 131.6 L359.5 132.3 L361.5 133.0 L363.5 133.7 L365.5 134.4 L367.5 135.2 L369.5 135.9 L371.5 136.6 L373.5 137.4 L375.5 138.2 L377.5 139.0 L379.5 139.7 L381.5 140.5 L383.5 141.4 L385.5 142.2 L387.5 143.0 L389.5 143.9 L391.5 144.7 L393.5 145.6 L395.5 146.5 L397.5 147.3 L399.5 148.2 L401.5 149.2 L403.5 150.1 L405.5 151.0 L407.5 152.0 L409.5 152.9 L411.5 153.9 L413.5 154.9 L415.5 155.9 L417.5 156.9 L419.5 157.9 L421.5 158.9 L423.5 160.0 L425.5 161.0 L427.5 162.1 L429.5 163.2 L431.5 164.3 L433.5 165.4 L435.5 166.6 L437.5 167.7 L439.5 168.9 L441.5 170.0 L443.5 171.2 L445.5 172.4 L447.5 173.7 L449.5 174.9 L451.5 176.2 L453.5 177.4 L455.5 178.7 L457.5 180.1 L459.5 181.4 L461.5 182.7 L463.5 184.1 L465.5 185.5 L467.5 186.9 L469.5 188.3 L471.5 189.8 L473.5 191.3 L475.5 192.8 L477.5 194.3 L479.5 195.9 L481.5 197.4 L483.5 199.0 L485.5 200.7 L487.5 202.3 L489.5 204.0 L491.5 205.7 L493.5 207.4 L495.5 209.2 L497.5 211.0 L499.5 212.8 L501.5 214.7 L503.5 216.6 L505.5 218.5 L507.5 220.5 L509.5 222.5 L511.5 224.5 L513.5 226.6 L515.5 228.7 L517.5 230.9 L519.5 233.1 L521.5 235.3 L523.5 237.6 L525.5 240.0 L527.5 242.3 L529.5 244.8 L531.5 247.3 L533.5 249.8 L535.5 252.4 L537.5 255.1 L539.5 257.8 L541.5 260.6 L543.5 263.5 L545.5 266.4 L547.5 269.4 L549.5 272.5 L551.5 275.7 L553.5 278.9 L555.5 282.3 L557.5 285.7 L559.5 289.2 L561.5 292.9 L563.5 296.7 L565.5 300.6 L567.5 304.6 L569.5 308.7 L571.5 312.9 L573.5 317.3 L575.5 321.8 L577.5 326.4 L579.5 331.1 L581.5 336.0 L583.5 341.0 L585.5 346.1 L587.5 351.4 L589.5 356.8 L591.5 362.3 L593.5 368.0 L595.5 373.8 L597.5 379.8 L599.5 385.9 L601.5 392.2 L603.5 398.6 L605.5 405.2 L607.5 411.9 L609.5 418.9 L611.5 425.9 L613.5 433.2 L615.5 440.6 L617.5 448.1 L619.5 455.9 L621.5 463.8 L623.5 471.9 L625.5 480.3 L627.5 488.8 L629.5 497.6 L631.5 506.6 L633.5 515.8 L635.5 525.3 L637.5 535.0 L639.5 544.9 L641.5 555.2 L643.5 565.7 L645.5 576.5 L647.5 587.5" fill="none" stroke-width="1.5"/>
<path d="M346.2 139.4H379.3M362.8 133.0V146.0M377.7 149.8H410.7M394.2 141.0V158.0M409.1 169.8H442.2M425.6 160.0V179.0M440.6 185.2H473.6M457.1 176.0V194.0M472.0 196.8H505.0M488.5 186.0V208.0M503.4 229.8H536.5M520.0 215.0V241.0M534.9 251.7H567.9M551.4 229.9V266.5M566.3 263.0H599.4M582.8 239.5V277.0M597.8 312.2H630.8M614.3 145.0V338.0" fill="none"/><circle cx="362.8" cy="139.4" r="3.3" stroke="none"/><circle cx="394.2" cy="149.8" r="3.3" stroke="none"/><circle cx="425.6" cy="169.8" r="3.3" stroke="none"/><circle cx="457.1" cy="185.2" r="3.3" stroke="none"/><circle cx="488.5" cy="196.8" r="3.3" stroke="none"/><circle cx="520.0" cy="229.8" r="3.3" stroke="none"/><circle cx="551.4" cy="251.7" r="3.3" stroke="none"/><circle cx="582.8" cy="263.0" r="3.3" stroke="none"/><circle cx="614.3" cy="312.2" r="3.3" stroke="none"/>
</g>
<g stroke="#10105e" fill="#10105e" stroke-width="2.15">
<path d="M73.5 59.7 L75.5 60.6 L77.5 61.5 L79.5 62.3 L81.5 63.2 L83.5 64.0 L85.5 64.9 L87.5 65.7 L89.5 66.5 L91.5 67.3 L93.5 68.1 L95.5 68.9 L97.5 69.6 L99.5 70.4 L101.5 71.1 L103.5 71.9 L105.5 72.6 L107.5 73.3 L109.5 74.0 L111.5 74.7 L113.5 75.4 L115.5 76.1 L117.5 76.7 L119.5 77.4 L121.5 78.1 L123.5 78.7 L125.5 79.3 L127.5 80.0 L129.5 80.6 L131.5 81.2 L133.5 81.8 L135.5 82.4 L137.5 83.0 L139.5 83.6 L141.5 84.1 L143.5 84.7 L145.5 85.3 L147.5 85.9 L149.5 86.4 L151.5 87.0 L153.5 87.5 L155.5 88.1 L157.5 88.6 L159.5 89.1 L161.5 89.7 L163.5 90.2 L165.5 90.7 L167.5 91.2 L169.5 91.7 L171.5 92.3 L173.5 92.8 L175.5 93.3 L177.5 93.8 L179.5 94.3 L181.5 94.8 L183.5 95.3 L185.5 95.8 L187.5 96.3 L189.5 96.8 L191.5 97.3 L193.5 97.8 L195.5 98.3 L197.5 98.8 L199.5 99.3 L201.5 99.8 L203.5 100.3 L205.5 100.8 L207.5 101.3 L209.5 101.8 L211.5 102.3 L213.5 102.8 L215.5 103.3 L217.5 103.9 L219.5 104.4 L221.5 104.9 L223.5 105.4 L225.5 106.0 L227.5 106.5 L229.5 107.0 L231.5 107.6 L233.5 108.1 L235.5 108.6 L237.5 109.2 L239.5 109.7 L241.5 110.3 L243.5 110.9 L245.5 111.4 L247.5 112.0 L249.5 112.5 L251.5 113.1 L253.5 113.7 L255.5 114.3 L257.5 114.9 L259.5 115.5 L261.5 116.0 L263.5 116.6 L265.5 117.2 L267.5 117.8 L269.5 118.4 L271.5 119.1 L273.5 119.7 L275.5 120.3 L277.5 120.9 L279.5 121.6 L281.5 122.2 L283.5 122.8 L285.5 123.5 L287.5 124.1 L289.5 124.8 L291.5 125.4 L293.5 126.1 L295.5 126.8 L297.5 127.4 L299.5 128.1 L301.5 128.8 L303.5 129.5 L305.5 130.2 L307.5 130.9 L309.5 131.6 L311.5 132.3 L313.5 133.0 L315.5 133.7 L317.5 134.4 L319.5 135.2 L321.5 135.9 L323.5 136.7 L325.5 137.4 L327.5 138.2 L329.5 138.9 L331.5 139.7 L333.5 140.5 L335.5 141.3 L337.5 142.1 L339.5 142.9 L341.5 143.7 L343.5 144.5 L345.5 145.3 L347.5 146.1 L349.5 147.0 L351.5 147.8 L353.5 148.7 L355.5 149.5 L357.5 150.4 L359.5 151.3 L361.5 152.2 L363.5 153.1 L365.5 154.0 L367.5 154.9 L369.5 155.9 L371.5 156.8 L373.5 157.8 L375.5 158.7 L377.5 159.7 L379.5 160.7 L381.5 161.7 L383.5 162.7 L385.5 163.7 L387.5 164.7 L389.5 165.8 L391.5 166.8 L393.5 167.9 L395.5 169.0 L397.5 170.1 L399.5 171.2 L401.5 172.3 L403.5 173.4 L405.5 174.6 L407.5 175.8 L409.5 176.9 L411.5 178.1 L413.5 179.3 L415.5 180.6 L417.5 181.8 L419.5 183.1 L421.5 184.3 L423.5 185.6 L425.5 186.9 L427.5 188.3 L429.5 189.6 L431.5 191.0 L433.5 192.3 L435.5 193.7 L437.5 195.2 L439.5 196.6 L441.5 198.0 L443.5 199.5 L445.5 201.0 L447.5 202.5 L449.5 204.1 L451.5 205.6 L453.5 207.2 L455.5 208.8 L457.5 210.4 L459.5 212.1 L461.5 213.8 L463.5 215.4 L465.5 217.2 L467.5 218.9 L469.5 220.7 L471.5 222.5 L473.5 224.3 L475.5 226.1 L477.5 228.0 L479.5 229.9 L481.5 231.8 L483.5 233.7 L485.5 235.7 L487.5 237.7 L489.5 239.7 L491.5 241.7 L493.5 243.8 L495.5 245.9 L497.5 248.0 L499.5 250.2 L501.5 252.4 L503.5 254.6 L505.5 256.8 L507.5 259.1 L509.5 261.4 L511.5 263.7 L513.5 266.0 L515.5 268.4 L517.5 270.8 L519.5 273.3 L521.5 275.8 L523.5 278.3 L525.5 280.8 L527.5 283.4 L529.5 286.0 L531.5 288.7 L533.5 291.4 L535.5 294.1 L537.5 296.9 L539.5 299.8 L541.5 302.6 L543.5 305.6 L545.5 308.5 L547.5 311.6 L549.5 314.7 L551.5 317.8 L553.5 321.1 L555.5 324.4 L557.5 327.7 L559.5 331.2 L561.5 334.7 L563.5 338.3 L565.5 342.0 L567.5 345.9 L569.5 349.8 L571.5 353.8 L573.5 357.9 L575.5 362.1 L577.5 366.5 L579.5 370.9 L581.5 375.5 L583.5 380.3 L585.5 385.1 L587.5 390.2 L589.5 395.3 L591.5 400.6 L593.5 406.1 L595.5 411.7 L597.5 417.6 L599.5 423.5 L601.5 429.7 L603.5 436.1 L605.5 442.6 L607.5 449.3 L609.5 456.3 L611.5 463.5 L613.5 470.8 L615.5 478.5 L617.5 486.3 L619.5 494.4 L621.5 502.7 L623.5 511.3 L625.5 520.1 L627.5 529.3 L629.5 538.7 L631.5 548.4 L633.5 558.4 L635.5 568.7 L637.5 579.3 L639.5 590.2" fill="none" stroke-width="1.5"/>
<path d="M91.6 76.8H156.0M123.8 70.0V84.0M154.4 81.5H218.9M186.7 75.0V88.0M217.3 109.5H281.8M249.6 101.0V118.0M280.2 129.8H344.7M312.5 120.0V137.0M343.1 179.8H407.6M375.3 169.0V191.0M406.0 234.4H470.5M438.2 217.5V262.0M468.9 287.0H533.3M501.1 265.0V320.0M267.6 109.4H300.7M284.2 92.3V126.3M299.1 130.6H332.1M315.6 115.0V148.0M330.5 143.4H363.6M347.0 135.0V152.4M362.0 149.3H395.0M378.5 141.0V157.5M393.4 166.9H426.4M409.9 158.5V175.5M424.8 188.5H457.9M441.4 180.0V198.0M456.3 225.0H489.3M472.8 216.0V235.0M519.2 326.3H552.2M535.7 300.0V362.7M550.6 276.6H583.6M567.1 258.7V295.3M462.6 244.8H489.3M475.9 239.3V250.9M487.7 255.3H514.5M501.1 249.0V260.0M512.9 279.7H539.6M526.3 267.5V286.7M538.0 296.7H564.8M551.4 282.5V310.0M563.2 306.0H589.9M576.6 297.0V317.0M588.3 375.0H615.1M601.7 330.5V420.2M613.5 410.6H640.2M626.9 365.3V474.0" fill="none"/><path d="M501.1 261V287" fill="none" stroke-dasharray="3 2.2"/><circle cx="123.8" cy="76.8" r="3.3" stroke="none"/><circle cx="186.7" cy="81.5" r="3.3" stroke="none"/><circle cx="249.6" cy="109.5" r="3.3" stroke="none"/><circle cx="312.5" cy="129.8" r="3.3" stroke="none"/><circle cx="375.3" cy="179.8" r="3.3" stroke="none"/><circle cx="438.2" cy="234.4" r="3.3" stroke="none"/><circle cx="501.1" cy="287.0" r="3.3" stroke="none"/><circle cx="284.2" cy="109.4" r="3.3" stroke="none"/><circle cx="315.6" cy="130.6" r="3.3" stroke="none"/><circle cx="347.0" cy="143.4" r="3.3" stroke="none"/><circle cx="378.5" cy="149.3" r="3.3" stroke="none"/><circle cx="409.9" cy="166.9" r="3.3" stroke="none"/><circle cx="441.4" cy="188.5" r="3.3" stroke="none"/><circle cx="472.8" cy="225.0" r="3.3" stroke="none"/><circle cx="535.7" cy="326.3" r="3.3" stroke="none"/><circle cx="567.1" cy="276.6" r="3.3" stroke="none"/><circle cx="475.9" cy="244.8" r="1.9" stroke="none"/><circle cx="501.1" cy="255.3" r="3.3" stroke="none"/><circle cx="526.3" cy="279.7" r="3.3" stroke="none"/><circle cx="551.4" cy="296.7" r="3.3" stroke="none"/><circle cx="576.6" cy="306.0" r="3.3" stroke="none"/><circle cx="601.7" cy="375.0" r="3.3" stroke="none"/><circle cx="626.9" cy="410.6" r="3.3" stroke="none"/>
</g>
<g stroke="#ff00ff" fill="#ff00ff" stroke-width="2.15">
<path d="M73.5 69.1 L75.5 69.9 L77.5 70.8 L79.5 71.6 L81.5 72.4 L83.5 73.2 L85.5 74.0 L87.5 74.8 L89.5 75.6 L91.5 76.4 L93.5 77.1 L95.5 77.9 L97.5 78.6 L99.5 79.3 L101.5 80.0 L103.5 80.7 L105.5 81.4 L107.5 82.1 L109.5 82.8 L111.5 83.4 L113.5 84.1 L115.5 84.7 L117.5 85.4 L119.5 86.0 L121.5 86.6 L123.5 87.2 L125.5 87.9 L127.5 88.5 L129.5 89.1 L131.5 89.6 L133.5 90.2 L135.5 90.8 L137.5 91.4 L139.5 91.9 L141.5 92.5 L143.5 93.1 L145.5 93.6 L147.5 94.2 L149.5 94.7 L151.5 95.2 L153.5 95.8 L155.5 96.3 L157.5 96.8 L159.5 97.3 L161.5 97.9 L163.5 98.4 L165.5 98.9 L167.5 99.4 L169.5 99.9 L171.5 100.4 L173.5 100.9 L175.5 101.4 L177.5 101.9 L179.5 102.4 L181.5 102.9 L183.5 103.4 L185.5 103.9 L187.5 104.4 L189.5 104.9 L191.5 105.4 L193.5 105.9 L195.5 106.4 L197.5 106.9 L199.5 107.4 L201.5 107.9 L203.5 108.4 L205.5 108.9 L207.5 109.5 L209.5 110.0 L211.5 110.5 L213.5 111.0 L215.5 111.5 L217.5 112.1 L219.5 112.6 L221.5 113.1 L223.5 113.7 L225.5 114.2 L227.5 114.8 L229.5 115.3 L231.5 115.9 L233.5 116.4 L235.5 117.0 L237.5 117.6 L239.5 118.1 L241.5 118.7 L243.5 119.3 L245.5 119.9 L247.5 120.5 L249.5 121.1 L251.5 121.7 L253.5 122.3 L255.5 122.9 L257.5 123.5 L259.5 124.1 L261.5 124.8 L263.5 125.4 L265.5 126.0 L267.5 126.7 L269.5 127.3 L271.5 128.0 L273.5 128.6 L275.5 129.3 L277.5 129.9 L279.5 130.6 L281.5 131.3 L283.5 132.0 L285.5 132.7 L287.5 133.4 L289.5 134.1 L291.5 134.8 L293.5 135.5 L295.5 136.2 L297.5 136.9 L299.5 137.7 L301.5 138.4 L303.5 139.2 L305.5 139.9 L307.5 140.7 L309.5 141.4 L311.5 142.2 L313.5 143.0 L315.5 143.8 L317.5 144.6 L319.5 145.4 L321.5 146.2 L323.5 147.0 L325.5 147.8 L327.5 148.7 L329.5 149.5 L331.5 150.4 L333.5 151.2 L335.5 152.1 L337.5 153.0 L339.5 153.9 L341.5 154.8 L343.5 155.7 L345.5 156.6 L347.5 157.5 L349.5 158.4 L351.5 159.4 L353.5 160.3 L355.5 161.3 L357.5 162.3 L359.5 163.2 L361.5 164.2 L363.5 165.2 L365.5 166.3 L367.5 167.3 L369.5 168.3 L371.5 169.4 L373.5 170.4 L375.5 171.5 L377.5 172.6 L379.5 173.7 L381.5 174.8 L383.5 175.9 L385.5 177.1 L387.5 178.2 L389.5 179.4 L391.5 180.6 L393.5 181.8 L395.5 183.0 L397.5 184.2 L399.5 185.5 L401.5 186.7 L403.5 188.0 L405.5 189.3 L407.5 190.6 L409.5 191.9 L411.5 193.2 L413.5 194.6 L415.5 195.9 L417.5 197.3 L419.5 198.7 L421.5 200.1 L423.5 201.6 L425.5 203.0 L427.5 204.5 L429.5 206.0 L431.5 207.5 L433.5 209.0 L435.5 210.6 L437.5 212.1 L439.5 213.7 L441.5 215.3 L443.5 216.9 L445.5 218.5 L447.5 220.2 L449.5 221.9 L451.5 223.6 L453.5 225.3 L455.5 227.0 L457.5 228.8 L459.5 230.6 L461.5 232.3 L463.5 234.2 L465.5 236.0 L467.5 237.8 L469.5 239.7 L471.5 241.6 L473.5 243.5 L475.5 245.4 L477.5 247.4 L479.5 249.4 L481.5 251.4 L483.5 253.4 L485.5 255.4 L487.5 257.5 L489.5 259.5 L491.5 261.6 L493.5 263.8 L495.5 265.9 L497.5 268.1 L499.5 270.2 L501.5 272.5 L503.5 274.7 L505.5 276.9 L507.5 279.2 L509.5 281.5 L511.5 283.9 L513.5 286.2 L515.5 288.6 L517.5 291.1 L519.5 293.5 L521.5 296.0 L523.5 298.6 L525.5 301.1 L527.5 303.8 L529.5 306.4 L531.5 309.1 L533.5 311.9 L535.5 314.7 L537.5 317.6 L539.5 320.5 L541.5 323.5 L543.5 326.5 L545.5 329.6 L547.5 332.8 L549.5 336.1 L551.5 339.4 L553.5 342.9 L555.5 346.4 L557.5 350.0 L559.5 353.7 L561.5 357.5 L563.5 361.5 L565.5 365.5 L567.5 369.7 L569.5 373.9 L571.5 378.3 L573.5 382.8 L575.5 387.5 L577.5 392.3 L579.5 397.2 L581.5 402.2 L583.5 407.4 L585.5 412.8 L587.5 418.3 L589.5 424.0 L591.5 429.8 L593.5 435.8 L595.5 442.0 L597.5 448.3 L599.5 454.8 L601.5 461.5 L603.5 468.4 L605.5 475.5 L607.5 482.8 L609.5 490.3 L611.5 498.0 L613.5 506.0 L615.5 514.1 L617.5 522.5 L619.5 531.1 L621.5 539.9 L623.5 549.1 L625.5 558.5 L627.5 568.2 L629.5 578.2 L631.5 588.4" fill="none" stroke-width="1.5"/>
<path d="M91.6 102.0H156.0M123.8 96.0V108.0M154.4 107.0H218.9M186.7 101.0V113.0M217.3 134.5H281.8M249.6 128.0V141.0M280.2 155.0H344.7M312.5 148.0V162.0M343.1 206.5H407.6M375.3 198.0V216.0M406.0 261.4H470.5M438.2 248.0V275.0M468.9 318.6H533.3M501.1 300.0V340.0M267.6 180.0H300.7M284.2 173.8V187.5M299.1 190.5H332.1M315.6 182.5V198.8M330.5 207.0H363.6M347.0 199.0V215.0M362.0 206.5H395.0M378.5 201.0V220.0M393.4 212.5H426.4M409.9 204.0V221.0M424.8 228.8H457.9M441.4 217.0V241.0M456.3 259.3H489.3M472.8 246.6V275.4M487.7 275.7H520.8M504.2 256.2V296.3M519.2 290.2H552.2M535.7 265.8V317.0M462.6 291.0H489.3M475.9 281.5V310.2M487.7 326.5H514.5M501.1 312.0V345.0M512.9 316.3H539.6M526.3 305.0V349.6M538.0 366.7H564.8M551.4 322.5V411.2M563.2 372.6H589.9M576.6 330.5V416.7M588.3 403.7H615.1M601.7 353.1V467.5" fill="none"/><circle cx="123.8" cy="102.0" r="3.3" stroke="none"/><circle cx="186.7" cy="107.0" r="3.3" stroke="none"/><circle cx="249.6" cy="134.5" r="3.3" stroke="none"/><circle cx="312.5" cy="155.0" r="3.3" stroke="none"/><circle cx="375.3" cy="206.5" r="3.3" stroke="none"/><circle cx="438.2" cy="261.4" r="3.3" stroke="none"/><circle cx="501.1" cy="318.6" r="3.3" stroke="none"/><circle cx="284.2" cy="180.0" r="3.3" stroke="none"/><circle cx="315.6" cy="190.5" r="3.3" stroke="none"/><circle cx="347.0" cy="207.0" r="3.3" stroke="none"/><circle cx="378.5" cy="206.5" r="3.3" stroke="none"/><circle cx="409.9" cy="212.5" r="3.3" stroke="none"/><circle cx="441.4" cy="228.8" r="3.3" stroke="none"/><circle cx="472.8" cy="259.3" r="3.3" stroke="none"/><circle cx="504.2" cy="275.7" r="3.3" stroke="none"/><circle cx="535.7" cy="290.2" r="3.3" stroke="none"/><circle cx="475.9" cy="291.0" r="3.3" stroke="none"/><circle cx="501.1" cy="326.5" r="3.3" stroke="none"/><circle cx="526.3" cy="316.3" r="3.3" stroke="none"/><circle cx="551.4" cy="366.7" r="3.3" stroke="none"/><circle cx="576.6" cy="372.6" r="3.3" stroke="none"/><circle cx="601.7" cy="403.7" r="3.3" stroke="none"/>
</g>
<g stroke="#8b148b" fill="#8b148b" stroke-width="2.15">
<path d="M73.5 81.7 L75.5 82.4 L77.5 83.2 L79.5 84.0 L81.5 84.7 L83.5 85.4 L85.5 86.2 L87.5 86.9 L89.5 87.5 L91.5 88.2 L93.5 88.9 L95.5 89.5 L97.5 90.2 L99.5 90.8 L101.5 91.4 L103.5 92.0 L105.5 92.6 L107.5 93.2 L109.5 93.8 L111.5 94.3 L113.5 94.9 L115.5 95.5 L117.5 96.0 L119.5 96.5 L121.5 97.1 L123.5 97.6 L125.5 98.1 L127.5 98.6 L129.5 99.1 L131.5 99.6 L133.5 100.1 L135.5 100.5 L137.5 101.0 L139.5 101.5 L141.5 101.9 L143.5 102.4 L145.5 102.9 L147.5 103.3 L149.5 103.8 L151.5 104.2 L153.5 104.7 L155.5 105.1 L157.5 105.6 L159.5 106.0 L161.5 106.5 L163.5 106.9 L165.5 107.3 L167.5 107.8 L169.5 108.2 L171.5 108.7 L173.5 109.1 L175.5 109.6 L177.5 110.0 L179.5 110.5 L181.5 110.9 L183.5 111.4 L185.5 111.9 L187.5 112.3 L189.5 112.8 L191.5 113.3 L193.5 113.7 L195.5 114.2 L197.5 114.7 L199.5 115.2 L201.5 115.7 L203.5 116.2 L205.5 116.8 L207.5 117.3 L209.5 117.8 L211.5 118.4 L213.5 118.9 L215.5 119.5 L217.5 120.0 L219.5 120.6 L221.5 121.2 L223.5 121.8 L225.5 122.4 L227.5 123.1 L229.5 123.7 L231.5 124.3 L233.5 125.0 L235.5 125.6 L237.5 126.3 L239.5 127.0 L241.5 127.7 L243.5 128.4 L245.5 129.1 L247.5 129.8 L249.5 130.5 L251.5 131.3 L253.5 132.0 L255.5 132.8 L257.5 133.5 L259.5 134.3 L261.5 135.1 L263.5 135.9 L265.5 136.7 L267.5 137.5 L269.5 138.3 L271.5 139.1 L273.5 140.0 L275.5 140.8 L277.5 141.7 L279.5 142.5 L281.5 143.4 L283.5 144.3 L285.5 145.2 L287.5 146.1 L289.5 147.0 L291.5 147.9 L293.5 148.8 L295.5 149.7 L297.5 150.6 L299.5 151.6 L301.5 152.5 L303.5 153.5 L305.5 154.5 L307.5 155.4 L309.5 156.4 L311.5 157.4 L313.5 158.4 L315.5 159.4 L317.5 160.4 L319.5 161.4 L321.5 162.5 L323.5 163.5 L325.5 164.6 L327.5 165.6 L329.5 166.7 L331.5 167.7 L333.5 168.8 L335.5 169.9 L337.5 171.0 L339.5 172.1 L341.5 173.2 L343.5 174.3 L345.5 175.4 L347.5 176.6 L349.5 177.7 L351.5 178.8 L353.5 180.0 L355.5 181.2 L357.5 182.3 L359.5 183.5 L361.5 184.7 L363.5 185.9 L365.5 187.1 L367.5 188.3 L369.5 189.5 L371.5 190.7 L373.5 191.9 L375.5 193.2 L377.5 194.4 L379.5 195.7 L381.5 197.0 L383.5 198.2 L385.5 199.5 L387.5 200.8 L389.5 202.1 L391.5 203.4 L393.5 204.8 L395.5 206.1 L397.5 207.5 L399.5 208.8 L401.5 210.2 L403.5 211.6 L405.5 213.0 L407.5 214.4 L409.5 215.8 L411.5 217.3 L413.5 218.7 L415.5 220.2 L417.5 221.7 L419.5 223.2 L421.5 224.7 L423.5 226.2 L425.5 227.8 L427.5 229.4 L429.5 230.9 L431.5 232.5 L433.5 234.2 L435.5 235.8 L437.5 237.4 L439.5 239.1 L441.5 240.8 L443.5 242.5 L445.5 244.2 L447.5 246.0 L449.5 247.8 L451.5 249.6 L453.5 251.4 L455.5 253.2 L457.5 255.1 L459.5 257.0 L461.5 258.9 L463.5 260.8 L465.5 262.8 L467.5 264.7 L469.5 266.7 L471.5 268.8 L473.5 270.8 L475.5 272.9 L477.5 275.1 L479.5 277.2 L481.5 279.4 L483.5 281.6 L485.5 283.9 L487.5 286.2 L489.5 288.5 L491.5 290.8 L493.5 293.2 L495.5 295.7 L497.5 298.1 L499.5 300.7 L501.5 303.2 L503.5 305.8 L505.5 308.5 L507.5 311.2 L509.5 314.0 L511.5 316.8 L513.5 319.6 L515.5 322.6 L517.5 325.5 L519.5 328.6 L521.5 331.7 L523.5 334.8 L525.5 338.1 L527.5 341.4 L529.5 344.7 L531.5 348.1 L533.5 351.6 L535.5 355.2 L537.5 358.8 L539.5 362.6 L541.5 366.3 L543.5 370.2 L545.5 374.1 L547.5 378.2 L549.5 382.2 L551.5 386.4 L553.5 390.7 L555.5 395.0 L557.5 399.5 L559.5 404.0 L561.5 408.6 L563.5 413.2 L565.5 418.0 L567.5 422.8 L569.5 427.7 L571.5 432.8 L573.5 437.9 L575.5 443.2 L577.5 448.5 L579.5 454.0 L581.5 459.6 L583.5 465.4 L585.5 471.2 L587.5 477.2 L589.5 483.4 L591.5 489.6 L593.5 496.1 L595.5 502.7 L597.5 509.4 L599.5 516.4 L601.5 523.5 L603.5 530.7 L605.5 538.2 L607.5 545.8 L609.5 553.7 L611.5 561.8 L613.5 570.1 L615.5 578.6 L617.5 587.3 L619.5 596.2" fill="none" stroke-width="1.5"/>
<path d="M91.6 93.0H156.0M123.8 86.0V100.0M154.4 98.8H218.9M186.7 92.0V106.0M217.3 130.8H281.8M249.6 122.0V140.0M280.2 153.3H344.7M312.5 137.0V165.0M343.1 210.9H407.6M375.3 192.0V240.0M406.0 269.8H470.5M438.2 235.0V300.0M468.9 331.2H533.3M501.1 298.9V390.0" fill="none"/><circle cx="123.8" cy="93.0" r="3.3" stroke="none"/><circle cx="186.7" cy="98.8" r="3.3" stroke="none"/><circle cx="249.6" cy="130.8" r="3.3" stroke="none"/><circle cx="312.5" cy="153.3" r="3.3" stroke="none"/><circle cx="375.3" cy="210.9" r="3.3" stroke="none"/><circle cx="438.2" cy="269.8" r="3.3" stroke="none"/><circle cx="501.1" cy="331.2" r="3.3" stroke="none"/>
</g>
<g stroke="#4a4a4a" fill="#4a4a4a" stroke-width="2.15">
<path d="M73.5 89.8 L75.5 90.4 L77.5 91.0 L79.5 91.6 L81.5 92.1 L83.5 92.7 L85.5 93.3 L87.5 93.8 L89.5 94.4 L91.5 95.0 L93.5 95.5 L95.5 96.1 L97.5 96.7 L99.5 97.2 L101.5 97.8 L103.5 98.4 L105.5 98.9 L107.5 99.5 L109.5 100.0 L111.5 100.6 L113.5 101.1 L115.5 101.7 L117.5 102.3 L119.5 102.8 L121.5 103.4 L123.5 103.9 L125.5 104.5 L127.5 105.0 L129.5 105.6 L131.5 106.2 L133.5 106.7 L135.5 107.3 L137.5 107.8 L139.5 108.4 L141.5 109.0 L143.5 109.5 L145.5 110.1 L147.5 110.7 L149.5 111.2 L151.5 111.8 L153.5 112.4 L155.5 112.9 L157.5 113.5 L159.5 114.1 L161.5 114.6 L163.5 115.2 L165.5 115.8 L167.5 116.4 L169.5 117.0 L171.5 117.5 L173.5 118.1 L175.5 118.7 L177.5 119.3 L179.5 119.9 L181.5 120.5 L183.5 121.1 L185.5 121.7 L187.5 122.3 L189.5 122.9 L191.5 123.5 L193.5 124.1 L195.5 124.8 L197.5 125.4 L199.5 126.0 L201.5 126.6 L203.5 127.3 L205.5 127.9 L207.5 128.5 L209.5 129.2 L211.5 129.8 L213.5 130.5 L215.5 131.2 L217.5 131.8 L219.5 132.5 L221.5 133.2 L223.5 133.8 L225.5 134.5 L227.5 135.2 L229.5 135.9 L231.5 136.6 L233.5 137.3 L235.5 138.0 L237.5 138.8 L239.5 139.5 L241.5 140.2 L243.5 140.9 L245.5 141.7 L247.5 142.4 L249.5 143.2 L251.5 144.0 L253.5 144.7 L255.5 145.5 L257.5 146.3 L259.5 147.1 L261.5 147.9 L263.5 148.7 L265.5 149.5 L267.5 150.3 L269.5 151.1 L271.5 151.9 L273.5 152.8 L275.5 153.6 L277.5 154.5 L279.5 155.3 L281.5 156.2 L283.5 157.1 L285.5 158.0 L287.5 158.9 L289.5 159.8 L291.5 160.7 L293.5 161.6 L295.5 162.5 L297.5 163.5 L299.5 164.4 L301.5 165.4 L303.5 166.3 L305.5 167.3 L307.5 168.3 L309.5 169.3 L311.5 170.3 L313.5 171.3 L315.5 172.4 L317.5 173.4 L319.5 174.5 L321.5 175.5 L323.5 176.6 L325.5 177.7 L327.5 178.8 L329.5 179.9 L331.5 181.0 L333.5 182.1 L335.5 183.3 L337.5 184.4 L339.5 185.6 L341.5 186.8 L343.5 188.0 L345.5 189.2 L347.5 190.4 L349.5 191.6 L351.5 192.9 L353.5 194.1 L355.5 195.4 L357.5 196.7 L359.5 198.0 L361.5 199.3 L363.5 200.6 L365.5 202.0 L367.5 203.3 L369.5 204.7 L371.5 206.1 L373.5 207.5 L375.5 208.9 L377.5 210.4 L379.5 211.8 L381.5 213.3 L383.5 214.8 L385.5 216.3 L387.5 217.8 L389.5 219.3 L391.5 220.9 L393.5 222.4 L395.5 224.0 L397.5 225.6 L399.5 227.2 L401.5 228.8 L403.5 230.5 L405.5 232.1 L407.5 233.8 L409.5 235.5 L411.5 237.2 L413.5 239.0 L415.5 240.7 L417.5 242.5 L419.5 244.3 L421.5 246.1 L423.5 247.9 L425.5 249.7 L427.5 251.5 L429.5 253.4 L431.5 255.3 L433.5 257.2 L435.5 259.1 L437.5 261.1 L439.5 263.0 L441.5 265.0 L443.5 267.0 L445.5 269.0 L447.5 271.0 L449.5 273.1 L451.5 275.1 L453.5 277.2 L455.5 279.3 L457.5 281.4 L459.5 283.6 L461.5 285.8 L463.5 287.9 L465.5 290.2 L467.5 292.4 L469.5 294.7 L471.5 296.9 L473.5 299.3 L475.5 301.6 L477.5 304.0 L479.5 306.4 L481.5 308.8 L483.5 311.3 L485.5 313.8 L487.5 316.3 L489.5 318.8 L491.5 321.5 L493.5 324.1 L495.5 326.8 L497.5 329.5 L499.5 332.3 L501.5 335.1 L503.5 338.0 L505.5 340.9 L507.5 343.9 L509.5 346.9 L511.5 350.0 L513.5 353.1 L515.5 356.4 L517.5 359.6 L519.5 363.0 L521.5 366.4 L523.5 369.9 L525.5 373.4 L527.5 377.1 L529.5 380.8 L531.5 384.6 L533.5 388.5 L535.5 392.4 L537.5 396.5 L539.5 400.6 L541.5 404.9 L543.5 409.2 L545.5 413.6 L547.5 418.2 L549.5 422.8 L551.5 427.6 L553.5 432.4 L555.5 437.4 L557.5 442.5 L559.5 447.7 L561.5 453.0 L563.5 458.5 L565.5 464.0 L567.5 469.7 L569.5 475.6 L571.5 481.5 L573.5 487.6 L575.5 493.9 L577.5 500.3 L579.5 506.9 L581.5 513.6 L583.5 520.5 L585.5 527.5 L587.5 534.7 L589.5 542.1 L591.5 549.7 L593.5 557.4 L595.5 565.4 L597.5 573.5 L599.5 581.8 L601.5 590.4" fill="none" stroke-width="1.5"/>
<path d="M91.6 97.5H156.0M123.8 62.5V130.0M154.4 103.8H218.9M186.7 71.0V136.0M217.3 142.5H281.8M249.6 112.5V173.8M280.2 169.2H344.7M312.5 145.0V197.5M343.1 235.0H407.6M375.3 203.3V265.0M406.0 295.4H470.5M438.2 251.0V346.0" fill="none"/><circle cx="123.8" cy="97.5" r="3.3" stroke="none"/><circle cx="186.7" cy="103.8" r="3.3" stroke="none"/><circle cx="249.6" cy="142.5" r="3.3" stroke="none"/><circle cx="312.5" cy="169.2" r="3.3" stroke="none"/><circle cx="375.3" cy="235.0" r="3.3" stroke="none"/><circle cx="438.2" cy="295.4" r="3.3" stroke="none"/>
</g>
<g stroke="#696969" fill="#696969" stroke-width="2.15">
<path d="M73.5 98.8 L75.5 99.3 L77.5 99.9 L79.5 100.4 L81.5 101.0 L83.5 101.5 L85.5 102.1 L87.5 102.6 L89.5 103.1 L91.5 103.7 L93.5 104.2 L95.5 104.8 L97.5 105.3 L99.5 105.9 L101.5 106.4 L103.5 107.0 L105.5 107.5 L107.5 108.1 L109.5 108.6 L111.5 109.2 L113.5 109.7 L115.5 110.3 L117.5 110.8 L119.5 111.4 L121.5 111.9 L123.5 112.5 L125.5 113.0 L127.5 113.6 L129.5 114.1 L131.5 114.7 L133.5 115.3 L135.5 115.8 L137.5 116.4 L139.5 117.0 L141.5 117.5 L143.5 118.1 L145.5 118.7 L147.5 119.2 L149.5 119.8 L151.5 120.4 L153.5 121.0 L155.5 121.6 L157.5 122.2 L159.5 122.8 L161.5 123.4 L163.5 124.0 L165.5 124.6 L167.5 125.2 L169.5 125.8 L171.5 126.4 L173.5 127.0 L175.5 127.6 L177.5 128.3 L179.5 128.9 L181.5 129.5 L183.5 130.2 L185.5 130.8 L187.5 131.5 L189.5 132.1 L191.5 132.8 L193.5 133.5 L195.5 134.1 L197.5 134.8 L199.5 135.5 L201.5 136.2 L203.5 136.9 L205.5 137.6 L207.5 138.3 L209.5 139.0 L211.5 139.7 L213.5 140.5 L215.5 141.2 L217.5 141.9 L219.5 142.7 L221.5 143.4 L223.5 144.2 L225.5 145.0 L227.5 145.7 L229.5 146.5 L231.5 147.3 L233.5 148.1 L235.5 148.9 L237.5 149.7 L239.5 150.6 L241.5 151.4 L243.5 152.2 L245.5 153.1 L247.5 153.9 L249.5 154.8 L251.5 155.7 L253.5 156.6 L255.5 157.4 L257.5 158.3 L259.5 159.2 L261.5 160.2 L263.5 161.1 L265.5 162.0 L267.5 162.9 L269.5 163.9 L271.5 164.9 L273.5 165.8 L275.5 166.8 L277.5 167.8 L279.5 168.8 L281.5 169.8 L283.5 170.8 L285.5 171.8 L287.5 172.9 L289.5 173.9 L291.5 175.0 L293.5 176.0 L295.5 177.1 L297.5 178.2 L299.5 179.3 L301.5 180.4 L303.5 181.5 L305.5 182.6 L307.5 183.8 L309.5 184.9 L311.5 186.1 L313.5 187.3 L315.5 188.4 L317.5 189.6 L319.5 190.8 L321.5 192.1 L323.5 193.3 L325.5 194.5 L327.5 195.8 L329.5 197.0 L331.5 198.3 L333.5 199.6 L335.5 200.9 L337.5 202.2 L339.5 203.6 L341.5 204.9 L343.5 206.2 L345.5 207.6 L347.5 209.0 L349.5 210.4 L351.5 211.8 L353.5 213.2 L355.5 214.6 L357.5 216.1 L359.5 217.5 L361.5 219.0 L363.5 220.5 L365.5 222.0 L367.5 223.5 L369.5 225.0 L371.5 226.5 L373.5 228.1 L375.5 229.7 L377.5 231.2 L379.5 232.8 L381.5 234.4 L383.5 236.1 L385.5 237.7 L387.5 239.3 L389.5 241.0 L391.5 242.7 L393.5 244.4 L395.5 246.1 L397.5 247.8 L399.5 249.5 L401.5 251.3 L403.5 253.1 L405.5 254.8 L407.5 256.6 L409.5 258.4 L411.5 260.3 L413.5 262.1 L415.5 264.0 L417.5 265.9 L419.5 267.8 L421.5 269.7 L423.5 271.6 L425.5 273.5 L427.5 275.5 L429.5 277.5 L431.5 279.5 L433.5 281.5 L435.5 283.5 L437.5 285.5 L439.5 287.6 L441.5 289.7 L443.5 291.8 L445.5 293.9 L447.5 296.1 L449.5 298.2 L451.5 300.4 L453.5 302.6 L455.5 304.9 L457.5 307.1 L459.5 309.4 L461.5 311.7 L463.5 314.1 L465.5 316.4 L467.5 318.8 L469.5 321.3 L471.5 323.7 L473.5 326.2 L475.5 328.7 L477.5 331.3 L479.5 333.9 L481.5 336.5 L483.5 339.2 L485.5 341.9 L487.5 344.7 L489.5 347.5 L491.5 350.4 L493.5 353.3 L495.5 356.2 L497.5 359.2 L499.5 362.3 L501.5 365.4 L503.5 368.6 L505.5 371.9 L507.5 375.2 L509.5 378.5 L511.5 382.0 L513.5 385.5 L515.5 389.0 L517.5 392.7 L519.5 396.4 L521.5 400.2 L523.5 404.1 L525.5 408.0 L527.5 412.1 L529.5 416.2 L531.5 420.4 L533.5 424.7 L535.5 429.1 L537.5 433.6 L539.5 438.1 L541.5 442.8 L543.5 447.6 L545.5 452.4 L547.5 457.4 L549.5 462.5 L551.5 467.7 L553.5 472.9 L555.5 478.3 L557.5 483.8 L559.5 489.4 L561.5 495.2 L563.5 501.0 L565.5 507.0 L567.5 513.1 L569.5 519.3 L571.5 525.6 L573.5 532.1 L575.5 538.7 L577.5 545.5 L579.5 552.4 L581.5 559.5 L583.5 566.8 L585.5 574.3 L587.5 581.9 L589.5 589.7 L591.5 597.6" fill="none" stroke-width="1.5"/>
</g>
<g stroke="#999999" fill="#999999" stroke-width="2.15">
<path d="M73.5 107.6 L75.5 108.1 L77.5 108.6 L79.5 109.2 L81.5 109.7 L83.5 110.2 L85.5 110.8 L87.5 111.3 L89.5 111.9 L91.5 112.4 L93.5 113.0 L95.5 113.5 L97.5 114.1 L99.5 114.7 L101.5 115.2 L103.5 115.8 L105.5 116.4 L107.5 117.0 L109.5 117.5 L111.5 118.1 L113.5 118.7 L115.5 119.3 L117.5 119.9 L119.5 120.5 L121.5 121.1 L123.5 121.7 L125.5 122.3 L127.5 123.0 L129.5 123.6 L131.5 124.2 L133.5 124.8 L135.5 125.5 L137.5 126.1 L139.5 126.7 L141.5 127.4 L143.5 128.0 L145.5 128.7 L147.5 129.3 L149.5 130.0 L151.5 130.7 L153.5 131.3 L155.5 132.0 L157.5 132.7 L159.5 133.4 L161.5 134.0 L163.5 134.7 L165.5 135.4 L167.5 136.1 L169.5 136.8 L171.5 137.5 L173.5 138.2 L175.5 138.9 L177.5 139.7 L179.5 140.4 L181.5 141.1 L183.5 141.8 L185.5 142.6 L187.5 143.3 L189.5 144.1 L191.5 144.8 L193.5 145.6 L195.5 146.3 L197.5 147.1 L199.5 147.9 L201.5 148.6 L203.5 149.4 L205.5 150.2 L207.5 151.0 L209.5 151.8 L211.5 152.6 L213.5 153.4 L215.5 154.2 L217.5 155.0 L219.5 155.8 L221.5 156.7 L223.5 157.5 L225.5 158.3 L227.5 159.2 L229.5 160.0 L231.5 160.9 L233.5 161.8 L235.5 162.6 L237.5 163.5 L239.5 164.4 L241.5 165.3 L243.5 166.2 L245.5 167.1 L247.5 168.0 L249.5 168.9 L251.5 169.8 L253.5 170.8 L255.5 171.7 L257.5 172.7 L259.5 173.6 L261.5 174.6 L263.5 175.6 L265.5 176.5 L267.5 177.5 L269.5 178.5 L271.5 179.5 L273.5 180.5 L275.5 181.6 L277.5 182.6 L279.5 183.6 L281.5 184.7 L283.5 185.8 L285.5 186.8 L287.5 187.9 L289.5 189.0 L291.5 190.1 L293.5 191.2 L295.5 192.3 L297.5 193.5 L299.5 194.6 L301.5 195.8 L303.5 196.9 L305.5 198.1 L307.5 199.3 L309.5 200.5 L311.5 201.7 L313.5 202.9 L315.5 204.2 L317.5 205.4 L319.5 206.7 L321.5 208.0 L323.5 209.3 L325.5 210.6 L327.5 211.9 L329.5 213.2 L331.5 214.5 L333.5 215.9 L335.5 217.3 L337.5 218.7 L339.5 220.1 L341.5 221.5 L343.5 222.9 L345.5 224.4 L347.5 225.8 L349.5 227.3 L351.5 228.8 L353.5 230.3 L355.5 231.8 L357.5 233.4 L359.5 234.9 L361.5 236.5 L363.5 238.1 L365.5 239.7 L367.5 241.3 L369.5 243.0 L371.5 244.7 L373.5 246.3 L375.5 248.0 L377.5 249.8 L379.5 251.5 L381.5 253.3 L383.5 255.0 L385.5 256.8 L387.5 258.6 L389.5 260.5 L391.5 262.3 L393.5 264.2 L395.5 266.1 L397.5 268.0 L399.5 270.0 L401.5 271.9 L403.5 273.9 L405.5 275.9 L407.5 277.9 L409.5 280.0 L411.5 282.1 L413.5 284.1 L415.5 286.3 L417.5 288.4 L419.5 290.6 L421.5 292.7 L423.5 294.9 L425.5 297.2 L427.5 299.4 L429.5 301.7 L431.5 304.0 L433.5 306.3 L435.5 308.7 L437.5 311.1 L439.5 313.5 L441.5 315.9 L443.5 318.4 L445.5 320.9 L447.5 323.4 L449.5 325.9 L451.5 328.5 L453.5 331.1 L455.5 333.8 L457.5 336.4 L459.5 339.1 L461.5 341.9 L463.5 344.6 L465.5 347.4 L467.5 350.3 L469.5 353.1 L471.5 356.0 L473.5 359.0 L475.5 362.0 L477.5 365.0 L479.5 368.1 L481.5 371.2 L483.5 374.3 L485.5 377.5 L487.5 380.8 L489.5 384.1 L491.5 387.4 L493.5 390.8 L495.5 394.3 L497.5 397.8 L499.5 401.3 L501.5 405.0 L503.5 408.7 L505.5 412.4 L507.5 416.2 L509.5 420.1 L511.5 424.0 L513.5 428.1 L515.5 432.2 L517.5 436.3 L519.5 440.6 L521.5 444.9 L523.5 449.3 L525.5 453.8 L527.5 458.4 L529.5 463.0 L531.5 467.8 L533.5 472.6 L535.5 477.5 L537.5 482.5 L539.5 487.6 L541.5 492.8 L543.5 498.1 L545.5 503.5 L547.5 508.9 L549.5 514.5 L551.5 520.2 L553.5 525.9 L555.5 531.8 L557.5 537.8 L559.5 543.8 L561.5 550.0 L563.5 556.3 L565.5 562.9 L567.5 569.7 L569.5 576.7 L571.5 583.8 L573.5 591.0" fill="none" stroke-width="1.5"/>
</g>
<g stroke="#bebebe" fill="#bebebe" stroke-width="2.15">
<path d="M73.5 116.7 L75.5 117.2 L77.5 117.7 L79.5 118.3 L81.5 118.8 L83.5 119.3 L85.5 119.9 L87.5 120.4 L89.5 120.9 L91.5 121.5 L93.5 122.1 L95.5 122.6 L97.5 123.2 L99.5 123.8 L101.5 124.4 L103.5 125.0 L105.5 125.6 L107.5 126.2 L109.5 126.8 L111.5 127.4 L113.5 128.0 L115.5 128.6 L117.5 129.3 L119.5 129.9 L121.5 130.6 L123.5 131.2 L125.5 131.9 L127.5 132.5 L129.5 133.2 L131.5 133.9 L133.5 134.6 L135.5 135.3 L137.5 136.0 L139.5 136.7 L141.5 137.4 L143.5 138.1 L145.5 138.8 L147.5 139.5 L149.5 140.3 L151.5 141.0 L153.5 141.7 L155.5 142.5 L157.5 143.2 L159.5 144.0 L161.5 144.8 L163.5 145.5 L165.5 146.3 L167.5 147.1 L169.5 147.9 L171.5 148.7 L173.5 149.5 L175.5 150.3 L177.5 151.1 L179.5 152.0 L181.5 152.8 L183.5 153.6 L185.5 154.5 L187.5 155.3 L189.5 156.2 L191.5 157.0 L193.5 157.9 L195.5 158.8 L197.5 159.7 L199.5 160.6 L201.5 161.5 L203.5 162.4 L205.5 163.3 L207.5 164.2 L209.5 165.1 L211.5 166.0 L213.5 167.0 L215.5 167.9 L217.5 168.9 L219.5 169.8 L221.5 170.8 L223.5 171.8 L225.5 172.7 L227.5 173.7 L229.5 174.7 L231.5 175.7 L233.5 176.7 L235.5 177.8 L237.5 178.8 L239.5 179.8 L241.5 180.9 L243.5 181.9 L245.5 183.0 L247.5 184.0 L249.5 185.1 L251.5 186.2 L253.5 187.3 L255.5 188.4 L257.5 189.5 L259.5 190.6 L261.5 191.7 L263.5 192.8 L265.5 194.0 L267.5 195.1 L269.5 196.3 L271.5 197.4 L273.5 198.6 L275.5 199.8 L277.5 201.0 L279.5 202.2 L281.5 203.4 L283.5 204.6 L285.5 205.8 L287.5 207.0 L289.5 208.3 L291.5 209.5 L293.5 210.8 L295.5 212.1 L297.5 213.4 L299.5 214.7 L301.5 216.0 L303.5 217.3 L305.5 218.6 L307.5 219.9 L309.5 221.3 L311.5 222.7 L313.5 224.0 L315.5 225.4 L317.5 226.8 L319.5 228.2 L321.5 229.6 L323.5 231.0 L325.5 232.5 L327.5 233.9 L329.5 235.4 L331.5 236.9 L333.5 238.4 L335.5 239.9 L337.5 241.4 L339.5 242.9 L341.5 244.4 L343.5 246.0 L345.5 247.5 L347.5 249.1 L349.5 250.7 L351.5 252.3 L353.5 253.9 L355.5 255.6 L357.5 257.2 L359.5 258.9 L361.5 260.6 L363.5 262.2 L365.5 263.9 L367.5 265.7 L369.5 267.4 L371.5 269.1 L373.5 270.9 L375.5 272.7 L377.5 274.5 L379.5 276.3 L381.5 278.1 L383.5 280.0 L385.5 281.9 L387.5 283.7 L389.5 285.6 L391.5 287.6 L393.5 289.5 L395.5 291.5 L397.5 293.5 L399.5 295.5 L401.5 297.5 L403.5 299.6 L405.5 301.7 L407.5 303.8 L409.5 305.9 L411.5 308.1 L413.5 310.3 L415.5 312.5 L417.5 314.7 L419.5 317.0 L421.5 319.3 L423.5 321.7 L425.5 324.0 L427.5 326.4 L429.5 328.8 L431.5 331.3 L433.5 333.8 L435.5 336.3 L437.5 338.9 L439.5 341.5 L441.5 344.1 L443.5 346.8 L445.5 349.5 L447.5 352.3 L449.5 355.1 L451.5 358.0 L453.5 360.9 L455.5 363.8 L457.5 366.8 L459.5 369.8 L461.5 372.9 L463.5 376.0 L465.5 379.2 L467.5 382.5 L469.5 385.8 L471.5 389.2 L473.5 392.6 L475.5 396.1 L477.5 399.6 L479.5 403.2 L481.5 406.9 L483.5 410.7 L485.5 414.5 L487.5 418.4 L489.5 422.4 L491.5 426.5 L493.5 430.6 L495.5 434.8 L497.5 439.2 L499.5 443.6 L501.5 448.1 L503.5 452.6 L505.5 457.3 L507.5 462.1 L509.5 467.0 L511.5 471.7 L513.5 476.4 L515.5 481.2 L517.5 486.1 L519.5 491.0 L521.5 496.1 L523.5 501.3 L525.5 506.6 L527.5 512.0 L529.5 517.5 L531.5 523.1 L533.5 528.9 L535.5 534.7 L537.5 540.7 L539.5 546.8 L541.5 551.6 L543.5 555.6 L545.5 560.3 L547.5 566.9 L549.5 573.7 L551.5 580.7 L553.5 587.8 L555.5 595.0" fill="none" stroke-width="1.5"/>
</g>
</g>
<g stroke="#000" stroke-width="1.3" fill="none">
<rect x="73.50" y="1.50" width="616.25" height="556.50"/>
<path d="M73.50 558.00v-6.0M73.50 1.50v6.0M98.65 558.00v-6.0M98.65 1.50v6.0M123.81 558.00v-6.0M123.81 1.50v6.0M148.96 558.00v-6.0M148.96 1.50v6.0M174.11 558.00v-11.0M174.11 1.50v11.0M199.27 558.00v-6.0M199.27 1.50v6.0M224.42 558.00v-6.0M224.42 1.50v6.0M249.57 558.00v-6.0M249.57 1.50v6.0M274.72 558.00v-6.0M274.72 1.50v6.0M299.88 558.00v-11.0M299.88 1.50v11.0M325.03 558.00v-6.0M325.03 1.50v6.0M350.18 558.00v-6.0M350.18 1.50v6.0M375.34 558.00v-6.0M375.34 1.50v6.0M400.49 558.00v-6.0M400.49 1.50v6.0M425.64 558.00v-11.0M425.64 1.50v11.0M450.80 558.00v-6.0M450.80 1.50v6.0M475.95 558.00v-6.0M475.95 1.50v6.0M501.10 558.00v-6.0M501.10 1.50v6.0M526.26 558.00v-6.0M526.26 1.50v6.0M551.41 558.00v-11.0M551.41 1.50v11.0M576.56 558.00v-6.0M576.56 1.50v6.0M601.71 558.00v-6.0M601.71 1.50v6.0M626.87 558.00v-6.0M626.87 1.50v6.0M652.02 558.00v-6.0M652.02 1.50v6.0M677.17 558.00v-11.0M677.17 1.50v11.0M73.50 500.70h6.3M689.75 500.70h-6.3M73.50 417.50h11.5M689.75 417.50h-11.5M73.50 334.30h6.3M689.75 334.30h-6.3M73.50 251.10h11.5M689.75 251.10h-11.5M73.50 167.90h6.3M689.75 167.90h-6.3M73.50 84.70h11.5M689.75 84.70h-11.5"/>
</g>
<g font-family="Liberation Serif, serif" stroke="#000" stroke-width="0.15">
<text x="204.0" y="29.7" font-size="25.5" fill="#000" stroke="#000" text-anchor="start" textLength="178.9" lengthAdjust="spacingAndGlyphs" >Star&#8722;Forming</text>
<text x="399.1" y="29.7" font-size="25.5" fill="#000" stroke="#000" text-anchor="start" textLength="16.3" lengthAdjust="spacingAndGlyphs" >&amp;</text>
<text x="428.6" y="29.7" font-size="25.5" fill="#000" stroke="#000" text-anchor="start" textLength="122.1" lengthAdjust="spacingAndGlyphs" >Quiescent</text>
<text x="567.5" y="29.7" font-size="25.5" fill="#000" stroke="#000" text-anchor="start" textLength="102.2" lengthAdjust="spacingAndGlyphs" >Galaxies</text>
<text x="291.6" y="58.7" font-size="21.0" fill="#000" stroke="#000" text-anchor="start" textLength="28.9" lengthAdjust="spacingAndGlyphs" >MF</text>
<text x="330.6" y="58.7" font-size="21.0" fill="#000" stroke="#000" text-anchor="start" textLength="76.6" lengthAdjust="spacingAndGlyphs" >evolved</text>
<text x="420.8" y="58.7" font-size="21.0" fill="#000" stroke="#000" text-anchor="start" textLength="47.1" lengthAdjust="spacingAndGlyphs" >back</text>
<text x="480.5" y="58.7" font-size="21.0" fill="#000" stroke="#000" text-anchor="start" textLength="19.7" lengthAdjust="spacingAndGlyphs" >in</text>
<text x="512.9" y="58.7" font-size="21.0" fill="#000" stroke="#000" text-anchor="start" textLength="45.5" lengthAdjust="spacingAndGlyphs" >time</text>
<text x="571.1" y="58.7" font-size="21.0" fill="#000" stroke="#000" text-anchor="start" textLength="55.3" lengthAdjust="spacingAndGlyphs" >using</text>
<text x="657.6" y="58.7" font-size="21.0" fill="#000" stroke="#000" text-anchor="start" textLength="14.5" lengthAdjust="spacingAndGlyphs" >G</text>
<path d="M652.6 47.5 L652.6 43.6 L639.3 43.6 L646.3 53 L639.3 62.4 L653.4 62.4 L653.4 58.3" fill="none" stroke="#000" stroke-width="1.7"/>
<text x="476.4" y="85.7" font-size="21.0" fill="#000" stroke="#000" text-anchor="start" textLength="98.5" lengthAdjust="spacingAndGlyphs" >Assuming</text>
<text x="587.0" y="85.7" font-size="21.0" fill="#000" stroke="#000" text-anchor="start" textLength="9.5" lengthAdjust="spacingAndGlyphs" >z</text>
<text x="640.1" y="85.7" font-size="21.0" fill="#000" stroke="#000" text-anchor="start" textLength="38.2" lengthAdjust="spacingAndGlyphs" >=15</text>
<text x="598.8" y="93" font-size="16.5" font-weight="bold" stroke-width="0" textLength="38.1" lengthAdjust="spacingAndGlyphs">start</text>
<text x="105.0" y="308.6" font-size="25.5" fill="#8c1414" stroke="#8c1414" text-anchor="start" textLength="70.5" lengthAdjust="spacingAndGlyphs" stroke-width="0">z=0.3</text>
<text x="105.0" y="336.5" font-size="25.5" fill="#ff0000" stroke="#ff0000" text-anchor="start" textLength="70.5" lengthAdjust="spacingAndGlyphs" stroke-width="0">z=0.6</text>
<text x="105.0" y="364.1" font-size="25.5" fill="#ff7f00" stroke="#ff7f00" text-anchor="start" textLength="70.5" lengthAdjust="spacingAndGlyphs" stroke-width="0">z=0.9</text>
<text x="105.0" y="391.9" font-size="25.5" fill="#14601a" stroke="#14601a" text-anchor="start" textLength="68.5" lengthAdjust="spacingAndGlyphs" stroke-width="0">z=1.1</text>
<text x="105.0" y="419.7" font-size="25.5" fill="#00ff00" stroke="#00ff00" text-anchor="start" textLength="70.5" lengthAdjust="spacingAndGlyphs" stroke-width="0">z=1.4</text>
<text x="105.0" y="447.5" font-size="25.5" fill="#00ffff" stroke="#00ffff" text-anchor="start" textLength="70.5" lengthAdjust="spacingAndGlyphs" stroke-width="0">z=2.2</text>
<text x="197.8" y="308.6" font-size="25.5" fill="#0000ff" stroke="#0000ff" text-anchor="start" textLength="70.5" lengthAdjust="spacingAndGlyphs" stroke-width="0">z=2.7</text>
<text x="197.8" y="336.5" font-size="25.5" fill="#10105e" stroke="#10105e" text-anchor="start" textLength="70.5" lengthAdjust="spacingAndGlyphs" stroke-width="0">z=4.0</text>
<text x="197.8" y="364.1" font-size="25.5" fill="#ff00ff" stroke="#ff00ff" text-anchor="start" textLength="70.5" lengthAdjust="spacingAndGlyphs" stroke-width="0">z=4.8</text>
<text x="197.8" y="391.9" font-size="25.5" fill="#8b148b" stroke="#8b148b" text-anchor="start" textLength="70.5" lengthAdjust="spacingAndGlyphs" stroke-width="0">z=6.0</text>
<text x="197.8" y="419.7" font-size="25.5" fill="#4a4a4a" stroke="#4a4a4a" text-anchor="start" textLength="70.5" lengthAdjust="spacingAndGlyphs" stroke-width="0">z=7.0</text>
<text x="197.8" y="447.5" font-size="25.5" fill="#696969" stroke="#696969" text-anchor="start" textLength="70.5" lengthAdjust="spacingAndGlyphs" stroke-width="0">z=8.0</text>
<text x="290.2" y="308.6" font-size="25.5" fill="#999999" stroke="#999999" text-anchor="start" textLength="70.0" lengthAdjust="spacingAndGlyphs" stroke-width="0">z=9.0</text>
<text x="290.2" y="336.5" font-size="25.5" fill="#bebebe" stroke="#bebebe" text-anchor="start" textLength="85.0" lengthAdjust="spacingAndGlyphs" stroke-width="0">z=10.0</text>
<text x="174.1" y="588.0" font-size="26.0" fill="#000" stroke="#000" text-anchor="middle" textLength="12.5" lengthAdjust="spacingAndGlyphs" >8</text>
<text x="299.9" y="588.0" font-size="26.0" fill="#000" stroke="#000" text-anchor="middle" textLength="12.5" lengthAdjust="spacingAndGlyphs" >9</text>
<text x="425.6" y="588.0" font-size="26.0" fill="#000" stroke="#000" text-anchor="middle" textLength="26.5" lengthAdjust="spacingAndGlyphs" >10</text>
<text x="551.4" y="588.0" font-size="26.0" fill="#000" stroke="#000" text-anchor="middle" textLength="25.0" lengthAdjust="spacingAndGlyphs" >11</text>
<text x="677.2" y="588.0" font-size="26.0" fill="#000" stroke="#000" text-anchor="middle" textLength="26.5" lengthAdjust="spacingAndGlyphs" >12</text>
<text x="316.0" y="619.8" font-size="25.5" fill="#000" stroke="#000" text-anchor="start" textLength="35.6" lengthAdjust="spacingAndGlyphs" >log</text>
<text x="365.1" y="619.8" font-size="25.5" fill="#000" stroke="#000" text-anchor="start" textLength="17.2" lengthAdjust="spacingAndGlyphs" >M</text>
<text x="398.1" y="619.8" font-size="25.5" fill="#000" stroke="#000" text-anchor="start" textLength="7.1" lengthAdjust="spacingAndGlyphs" >(</text>
<text x="407.2" y="619.8" font-size="25.5" fill="#000" stroke="#000" text-anchor="start" textLength="17.7" lengthAdjust="spacingAndGlyphs" >M</text>
<text x="442.1" y="619.8" font-size="25.5" fill="#000" stroke="#000" text-anchor="start" textLength="7.1" lengthAdjust="spacingAndGlyphs" >)</text>
<circle cx="433" cy="622.3" r="6.2" fill="none" stroke="#000" stroke-width="1.2"/><circle cx="433" cy="622.3" r="1.3" fill="#000"/>
<text transform="translate(56.6,85.0) rotate(-90)" font-size="26" text-anchor="middle" textLength="32" lengthAdjust="spacingAndGlyphs">&#8722;2</text>
<text transform="translate(56.6,251.4) rotate(-90)" font-size="26" text-anchor="middle" textLength="32" lengthAdjust="spacingAndGlyphs">&#8722;4</text>
<text transform="translate(56.6,417.8) rotate(-90)" font-size="26" text-anchor="middle" textLength="32" lengthAdjust="spacingAndGlyphs">&#8722;6</text>
<g transform="translate(28.3,428) rotate(-90)" font-size="25.5">
<text x="0.4" y="0.0" textLength="35.0" lengthAdjust="spacingAndGlyphs" >log</text>
<text x="51.6" y="0.0" textLength="13.4" lengthAdjust="spacingAndGlyphs" font-style="italic">&#981;</text>
<text x="77.2" y="0.0" textLength="8.1" lengthAdjust="spacingAndGlyphs" >(</text>
<text x="89.3" y="0.0" textLength="33.7" lengthAdjust="spacingAndGlyphs" >gal</text>
<text x="131.0" y="0.0" textLength="55.0" lengthAdjust="spacingAndGlyphs" >Mpc</text>
<text x="190.0" y="-13.5" font-size="17.5" textLength="21.6" lengthAdjust="spacingAndGlyphs" >&#8722;3</text>
<text x="227.8" y="0.0" textLength="41.7" lengthAdjust="spacingAndGlyphs" >dex</text>
<text x="274.9" y="-13.5" font-size="17.5" textLength="18.9" lengthAdjust="spacingAndGlyphs" >&#8722;1</text>
<text x="296.4" y="0.0" textLength="8.1" lengthAdjust="spacingAndGlyphs" >)</text>
</g>
</g>
</svg>
</body></html>
